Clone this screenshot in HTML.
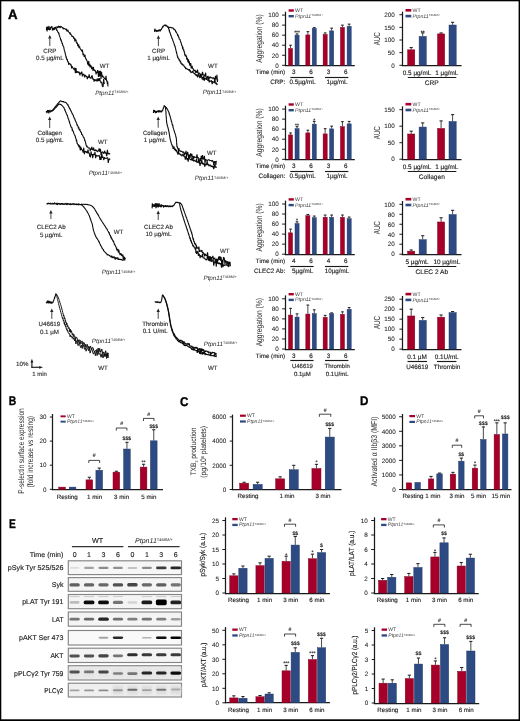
<!DOCTYPE html>
<html><head><meta charset="utf-8"><style>
html,body{margin:0;padding:0;background:#fff;}
svg{display:block;font-family:"Liberation Sans", sans-serif;text-rendering:geometricPrecision;will-change:transform;}
</style></head><body>
<svg width="520" height="721" viewBox="0 0 520 721">
<rect x="0" y="0" width="520" height="721" fill="#ffffff"/>
<line x1="285.5" y1="11.7" x2="285.5" y2="66.12" stroke="#1a1a1a" stroke-width="1.25"/>
<line x1="284.88" y1="65.5" x2="354.8" y2="65.5" stroke="#1a1a1a" stroke-width="1.25"/>
<line x1="282.1" y1="65.3" x2="285.5" y2="65.3" stroke="#1a1a1a" stroke-width="1"/>
<text x="278.7" y="67.57" font-size="6.3" text-anchor="end" fill="#1e1e1e" stroke="#1e1e1e" stroke-width="0.07">0</text>
<line x1="282.1" y1="55.26" x2="285.5" y2="55.26" stroke="#1a1a1a" stroke-width="1"/>
<text x="278.7" y="57.53" font-size="6.3" text-anchor="end" fill="#1e1e1e" stroke="#1e1e1e" stroke-width="0.07">20</text>
<line x1="282.1" y1="45.22" x2="285.5" y2="45.22" stroke="#1a1a1a" stroke-width="1"/>
<text x="278.7" y="47.49" font-size="6.3" text-anchor="end" fill="#1e1e1e" stroke="#1e1e1e" stroke-width="0.07">40</text>
<line x1="282.1" y1="35.18" x2="285.5" y2="35.18" stroke="#1a1a1a" stroke-width="1"/>
<text x="278.7" y="37.45" font-size="6.3" text-anchor="end" fill="#1e1e1e" stroke="#1e1e1e" stroke-width="0.07">60</text>
<line x1="282.1" y1="25.14" x2="285.5" y2="25.14" stroke="#1a1a1a" stroke-width="1"/>
<text x="278.7" y="27.41" font-size="6.3" text-anchor="end" fill="#1e1e1e" stroke="#1e1e1e" stroke-width="0.07">80</text>
<line x1="282.1" y1="15.1" x2="285.5" y2="15.1" stroke="#1a1a1a" stroke-width="1"/>
<text x="278.7" y="17.37" font-size="6.3" text-anchor="end" fill="#1e1e1e" stroke="#1e1e1e" stroke-width="0.07">100</text>
<line x1="290.55" y1="45.22" x2="290.55" y2="48.23" stroke="#1a1a1a" stroke-width="0.8"/>
<line x1="289.2" y1="45.22" x2="291.9" y2="45.22" stroke="#1a1a1a" stroke-width="1"/>
<rect x="288.5" y="48.43" width="4.1" height="16.87" fill="#a6002a" stroke="#80001f" stroke-width="0.45"/>
<line x1="297.05" y1="33.92" x2="297.05" y2="34.93" stroke="#1a1a1a" stroke-width="0.8"/>
<line x1="295.7" y1="33.92" x2="298.4" y2="33.92" stroke="#1a1a1a" stroke-width="1"/>
<rect x="295" y="35.13" width="4.1" height="30.17" fill="#2d4a82" stroke="#1c3565" stroke-width="0.45"/>
<line x1="307.85" y1="31.67" x2="307.85" y2="34.68" stroke="#1a1a1a" stroke-width="0.8"/>
<line x1="306.5" y1="31.67" x2="309.2" y2="31.67" stroke="#1a1a1a" stroke-width="1"/>
<rect x="305.8" y="34.88" width="4.1" height="30.42" fill="#a6002a" stroke="#80001f" stroke-width="0.45"/>
<line x1="314.25" y1="27.65" x2="314.25" y2="28.15" stroke="#1a1a1a" stroke-width="0.8"/>
<line x1="312.9" y1="27.65" x2="315.6" y2="27.65" stroke="#1a1a1a" stroke-width="1"/>
<rect x="312.2" y="28.35" width="4.1" height="36.95" fill="#2d4a82" stroke="#1c3565" stroke-width="0.45"/>
<line x1="325.15" y1="32.92" x2="325.15" y2="34.18" stroke="#1a1a1a" stroke-width="0.8"/>
<line x1="323.8" y1="32.92" x2="326.5" y2="32.92" stroke="#1a1a1a" stroke-width="1"/>
<rect x="323.1" y="34.38" width="4.1" height="30.92" fill="#a6002a" stroke="#80001f" stroke-width="0.45"/>
<line x1="331.65" y1="28.15" x2="331.65" y2="30.66" stroke="#1a1a1a" stroke-width="0.8"/>
<line x1="330.3" y1="28.15" x2="333" y2="28.15" stroke="#1a1a1a" stroke-width="1"/>
<rect x="329.6" y="30.86" width="4.1" height="34.44" fill="#2d4a82" stroke="#1c3565" stroke-width="0.45"/>
<line x1="342.45" y1="25.14" x2="342.45" y2="27.15" stroke="#1a1a1a" stroke-width="0.8"/>
<line x1="341.1" y1="25.14" x2="343.8" y2="25.14" stroke="#1a1a1a" stroke-width="1"/>
<rect x="340.4" y="27.35" width="4.1" height="37.95" fill="#a6002a" stroke="#80001f" stroke-width="0.45"/>
<line x1="349.15" y1="24.14" x2="349.15" y2="26.14" stroke="#1a1a1a" stroke-width="0.8"/>
<line x1="347.8" y1="24.14" x2="350.5" y2="24.14" stroke="#1a1a1a" stroke-width="1"/>
<rect x="347.1" y="26.34" width="4.1" height="38.96" fill="#2d4a82" stroke="#1c3565" stroke-width="0.45"/>
<text x="297.05" y="33.8" font-size="5" text-anchor="middle" fill="#1e1e1e" stroke="#1e1e1e" stroke-width="0.14">***</text>
<rect x="288.6" y="9.3" width="5.2" height="2.4" fill="#a6002a"/>
<rect x="288.6" y="15" width="5.2" height="2.4" fill="#2d4a82"/>
<text x="295.1" y="12" font-size="5.2" text-anchor="start" fill="#3c3c3c" stroke="none">WT</text>
<text x="295.1" y="17.7" font-size="5.2" text-anchor="start" fill="#3c3c3c"><tspan font-style="italic">Ptpn11</tspan><tspan font-size="3.02" dy="-1.4">T468M/+</tspan></text>
<text x="261.9" y="38.5" font-size="8.6" text-anchor="middle" fill="#2a2a2a" transform="rotate(-90 261.9 38.5)" stroke="none" textLength="48.3" lengthAdjust="spacingAndGlyphs">Aggregation (%)</text>
<text x="285.2" y="74.4" font-size="6.2" text-anchor="end" fill="#1e1e1e" stroke="#1e1e1e" stroke-width="0.14">Time (min)</text>
<text x="293.8" y="74.4" font-size="6.3" text-anchor="middle" fill="#1e1e1e" stroke="#1e1e1e" stroke-width="0.14">3</text>
<text x="311.05" y="74.4" font-size="6.3" text-anchor="middle" fill="#1e1e1e" stroke="#1e1e1e" stroke-width="0.14">6</text>
<text x="328.4" y="74.4" font-size="6.3" text-anchor="middle" fill="#1e1e1e" stroke="#1e1e1e" stroke-width="0.14">3</text>
<text x="345.8" y="74.4" font-size="6.3" text-anchor="middle" fill="#1e1e1e" stroke="#1e1e1e" stroke-width="0.14">6</text>
<line x1="290.3" y1="77.5" x2="313.6" y2="77.5" stroke="#1a1a1a" stroke-width="1.15"/>
<line x1="325" y1="77.5" x2="348.4" y2="77.5" stroke="#1a1a1a" stroke-width="1.15"/>
<text x="285.2" y="83.6" font-size="6.3" text-anchor="end" fill="#1e1e1e" stroke="#1e1e1e" stroke-width="0.14">CRP:</text>
<text x="302.6" y="83.6" font-size="6.3" text-anchor="middle" fill="#1e1e1e" stroke="#1e1e1e" stroke-width="0.14">0.5µg/mL</text>
<text x="337" y="83.6" font-size="6.3" text-anchor="middle" fill="#1e1e1e" stroke="#1e1e1e" stroke-width="0.14">1µg/mL</text>
<line x1="285.5" y1="105.7" x2="285.5" y2="160.12" stroke="#1a1a1a" stroke-width="1.25"/>
<line x1="284.88" y1="159.5" x2="354.8" y2="159.5" stroke="#1a1a1a" stroke-width="1.25"/>
<line x1="282.1" y1="159.3" x2="285.5" y2="159.3" stroke="#1a1a1a" stroke-width="1"/>
<text x="278.7" y="161.57" font-size="6.3" text-anchor="end" fill="#1e1e1e" stroke="#1e1e1e" stroke-width="0.07">0</text>
<line x1="282.1" y1="149.26" x2="285.5" y2="149.26" stroke="#1a1a1a" stroke-width="1"/>
<text x="278.7" y="151.53" font-size="6.3" text-anchor="end" fill="#1e1e1e" stroke="#1e1e1e" stroke-width="0.07">20</text>
<line x1="282.1" y1="139.22" x2="285.5" y2="139.22" stroke="#1a1a1a" stroke-width="1"/>
<text x="278.7" y="141.49" font-size="6.3" text-anchor="end" fill="#1e1e1e" stroke="#1e1e1e" stroke-width="0.07">40</text>
<line x1="282.1" y1="129.18" x2="285.5" y2="129.18" stroke="#1a1a1a" stroke-width="1"/>
<text x="278.7" y="131.45" font-size="6.3" text-anchor="end" fill="#1e1e1e" stroke="#1e1e1e" stroke-width="0.07">60</text>
<line x1="282.1" y1="119.14" x2="285.5" y2="119.14" stroke="#1a1a1a" stroke-width="1"/>
<text x="278.7" y="121.41" font-size="6.3" text-anchor="end" fill="#1e1e1e" stroke="#1e1e1e" stroke-width="0.07">80</text>
<line x1="282.1" y1="109.1" x2="285.5" y2="109.1" stroke="#1a1a1a" stroke-width="1"/>
<text x="278.7" y="111.37" font-size="6.3" text-anchor="end" fill="#1e1e1e" stroke="#1e1e1e" stroke-width="0.07">100</text>
<line x1="290.55" y1="132.95" x2="290.55" y2="134.7" stroke="#1a1a1a" stroke-width="0.8"/>
<line x1="289.2" y1="132.95" x2="291.9" y2="132.95" stroke="#1a1a1a" stroke-width="1"/>
<rect x="288.5" y="134.9" width="4.1" height="24.4" fill="#a6002a" stroke="#80001f" stroke-width="0.45"/>
<line x1="297.05" y1="126.67" x2="297.05" y2="128.43" stroke="#1a1a1a" stroke-width="0.8"/>
<line x1="295.7" y1="126.67" x2="298.4" y2="126.67" stroke="#1a1a1a" stroke-width="1"/>
<rect x="295" y="128.63" width="4.1" height="30.67" fill="#2d4a82" stroke="#1c3565" stroke-width="0.45"/>
<line x1="307.85" y1="130.18" x2="307.85" y2="132.69" stroke="#1a1a1a" stroke-width="0.8"/>
<line x1="306.5" y1="130.18" x2="309.2" y2="130.18" stroke="#1a1a1a" stroke-width="1"/>
<rect x="305.8" y="132.89" width="4.1" height="26.41" fill="#a6002a" stroke="#80001f" stroke-width="0.45"/>
<line x1="314.25" y1="121.4" x2="314.25" y2="123.91" stroke="#1a1a1a" stroke-width="0.8"/>
<line x1="312.9" y1="121.4" x2="315.6" y2="121.4" stroke="#1a1a1a" stroke-width="1"/>
<rect x="312.2" y="124.11" width="4.1" height="35.19" fill="#2d4a82" stroke="#1c3565" stroke-width="0.45"/>
<line x1="325.15" y1="128.68" x2="325.15" y2="133.7" stroke="#1a1a1a" stroke-width="0.8"/>
<line x1="323.8" y1="128.68" x2="326.5" y2="128.68" stroke="#1a1a1a" stroke-width="1"/>
<rect x="323.1" y="133.9" width="4.1" height="25.4" fill="#a6002a" stroke="#80001f" stroke-width="0.45"/>
<line x1="331.65" y1="126.17" x2="331.65" y2="128.68" stroke="#1a1a1a" stroke-width="0.8"/>
<line x1="330.3" y1="126.17" x2="333" y2="126.17" stroke="#1a1a1a" stroke-width="1"/>
<rect x="329.6" y="128.88" width="4.1" height="30.42" fill="#2d4a82" stroke="#1c3565" stroke-width="0.45"/>
<line x1="342.45" y1="121.65" x2="342.45" y2="126.42" stroke="#1a1a1a" stroke-width="0.8"/>
<line x1="341.1" y1="121.65" x2="343.8" y2="121.65" stroke="#1a1a1a" stroke-width="1"/>
<rect x="340.4" y="126.62" width="4.1" height="32.68" fill="#a6002a" stroke="#80001f" stroke-width="0.45"/>
<line x1="349.15" y1="121.4" x2="349.15" y2="123.66" stroke="#1a1a1a" stroke-width="0.8"/>
<line x1="347.8" y1="121.4" x2="350.5" y2="121.4" stroke="#1a1a1a" stroke-width="1"/>
<rect x="347.1" y="123.86" width="4.1" height="35.44" fill="#2d4a82" stroke="#1c3565" stroke-width="0.45"/>
<text x="297.05" y="126.8" font-size="5" text-anchor="middle" fill="#1e1e1e" stroke="#1e1e1e" stroke-width="0.14">**</text>
<text x="314.25" y="121.7" font-size="5" text-anchor="middle" fill="#1e1e1e" stroke="#1e1e1e" stroke-width="0.14">*</text>
<rect x="288.6" y="103.3" width="5.2" height="2.4" fill="#a6002a"/>
<rect x="288.6" y="109" width="5.2" height="2.4" fill="#2d4a82"/>
<text x="295.1" y="106" font-size="5.2" text-anchor="start" fill="#3c3c3c" stroke="none">WT</text>
<text x="295.1" y="111.7" font-size="5.2" text-anchor="start" fill="#3c3c3c"><tspan font-style="italic">Ptpn11</tspan><tspan font-size="3.02" dy="-1.4">T468M/+</tspan></text>
<text x="261.9" y="132.5" font-size="8.6" text-anchor="middle" fill="#2a2a2a" transform="rotate(-90 261.9 132.5)" stroke="none" textLength="48.3" lengthAdjust="spacingAndGlyphs">Aggregation (%)</text>
<text x="285.2" y="168.4" font-size="6.2" text-anchor="end" fill="#1e1e1e" stroke="#1e1e1e" stroke-width="0.14">Time (min)</text>
<text x="293.8" y="168.4" font-size="6.3" text-anchor="middle" fill="#1e1e1e" stroke="#1e1e1e" stroke-width="0.14">3</text>
<text x="311.05" y="168.4" font-size="6.3" text-anchor="middle" fill="#1e1e1e" stroke="#1e1e1e" stroke-width="0.14">6</text>
<text x="328.4" y="168.4" font-size="6.3" text-anchor="middle" fill="#1e1e1e" stroke="#1e1e1e" stroke-width="0.14">3</text>
<text x="345.8" y="168.4" font-size="6.3" text-anchor="middle" fill="#1e1e1e" stroke="#1e1e1e" stroke-width="0.14">6</text>
<line x1="290.3" y1="171.5" x2="313.6" y2="171.5" stroke="#1a1a1a" stroke-width="1.15"/>
<line x1="325" y1="171.5" x2="348.4" y2="171.5" stroke="#1a1a1a" stroke-width="1.15"/>
<text x="285.2" y="177.6" font-size="6.3" text-anchor="end" fill="#1e1e1e" stroke="#1e1e1e" stroke-width="0.14">Collagen:</text>
<text x="302.6" y="177.6" font-size="6.3" text-anchor="middle" fill="#1e1e1e" stroke="#1e1e1e" stroke-width="0.14">0.5µg/mL</text>
<text x="337" y="177.6" font-size="6.3" text-anchor="middle" fill="#1e1e1e" stroke="#1e1e1e" stroke-width="0.14">1µg/mL</text>
<line x1="285.5" y1="200.6" x2="285.5" y2="255.12" stroke="#1a1a1a" stroke-width="1.25"/>
<line x1="284.88" y1="254.5" x2="354.8" y2="254.5" stroke="#1a1a1a" stroke-width="1.25"/>
<line x1="282.1" y1="254.2" x2="285.5" y2="254.2" stroke="#1a1a1a" stroke-width="1"/>
<text x="278.7" y="256.47" font-size="6.3" text-anchor="end" fill="#1e1e1e" stroke="#1e1e1e" stroke-width="0.07">0</text>
<line x1="282.1" y1="244.16" x2="285.5" y2="244.16" stroke="#1a1a1a" stroke-width="1"/>
<text x="278.7" y="246.43" font-size="6.3" text-anchor="end" fill="#1e1e1e" stroke="#1e1e1e" stroke-width="0.07">20</text>
<line x1="282.1" y1="234.12" x2="285.5" y2="234.12" stroke="#1a1a1a" stroke-width="1"/>
<text x="278.7" y="236.39" font-size="6.3" text-anchor="end" fill="#1e1e1e" stroke="#1e1e1e" stroke-width="0.07">40</text>
<line x1="282.1" y1="224.08" x2="285.5" y2="224.08" stroke="#1a1a1a" stroke-width="1"/>
<text x="278.7" y="226.35" font-size="6.3" text-anchor="end" fill="#1e1e1e" stroke="#1e1e1e" stroke-width="0.07">60</text>
<line x1="282.1" y1="214.04" x2="285.5" y2="214.04" stroke="#1a1a1a" stroke-width="1"/>
<text x="278.7" y="216.31" font-size="6.3" text-anchor="end" fill="#1e1e1e" stroke="#1e1e1e" stroke-width="0.07">80</text>
<line x1="282.1" y1="204" x2="285.5" y2="204" stroke="#1a1a1a" stroke-width="1"/>
<text x="278.7" y="206.27" font-size="6.3" text-anchor="end" fill="#1e1e1e" stroke="#1e1e1e" stroke-width="0.07">100</text>
<line x1="290.55" y1="229.1" x2="290.55" y2="232.61" stroke="#1a1a1a" stroke-width="0.8"/>
<line x1="289.2" y1="229.1" x2="291.9" y2="229.1" stroke="#1a1a1a" stroke-width="1"/>
<rect x="288.5" y="232.81" width="4.1" height="21.39" fill="#a6002a" stroke="#80001f" stroke-width="0.45"/>
<line x1="297.05" y1="221.82" x2="297.05" y2="223.33" stroke="#1a1a1a" stroke-width="0.8"/>
<line x1="295.7" y1="221.82" x2="298.4" y2="221.82" stroke="#1a1a1a" stroke-width="1"/>
<rect x="295" y="223.53" width="4.1" height="30.67" fill="#2d4a82" stroke="#1c3565" stroke-width="0.45"/>
<line x1="307.85" y1="214.54" x2="307.85" y2="215.55" stroke="#1a1a1a" stroke-width="0.8"/>
<line x1="306.5" y1="214.54" x2="309.2" y2="214.54" stroke="#1a1a1a" stroke-width="1"/>
<rect x="305.8" y="215.75" width="4.1" height="38.45" fill="#a6002a" stroke="#80001f" stroke-width="0.45"/>
<line x1="314.25" y1="216.05" x2="314.25" y2="217.55" stroke="#1a1a1a" stroke-width="0.8"/>
<line x1="312.9" y1="216.05" x2="315.6" y2="216.05" stroke="#1a1a1a" stroke-width="1"/>
<rect x="312.2" y="217.75" width="4.1" height="36.45" fill="#2d4a82" stroke="#1c3565" stroke-width="0.45"/>
<line x1="325.15" y1="215.04" x2="325.15" y2="217.05" stroke="#1a1a1a" stroke-width="0.8"/>
<line x1="323.8" y1="215.04" x2="326.5" y2="215.04" stroke="#1a1a1a" stroke-width="1"/>
<rect x="323.1" y="217.25" width="4.1" height="36.95" fill="#a6002a" stroke="#80001f" stroke-width="0.45"/>
<line x1="331.65" y1="215.04" x2="331.65" y2="217.05" stroke="#1a1a1a" stroke-width="0.8"/>
<line x1="330.3" y1="215.04" x2="333" y2="215.04" stroke="#1a1a1a" stroke-width="1"/>
<rect x="329.6" y="217.25" width="4.1" height="36.95" fill="#2d4a82" stroke="#1c3565" stroke-width="0.45"/>
<line x1="342.45" y1="215.04" x2="342.45" y2="217.05" stroke="#1a1a1a" stroke-width="0.8"/>
<line x1="341.1" y1="215.04" x2="343.8" y2="215.04" stroke="#1a1a1a" stroke-width="1"/>
<rect x="340.4" y="217.25" width="4.1" height="36.95" fill="#a6002a" stroke="#80001f" stroke-width="0.45"/>
<line x1="349.15" y1="217.05" x2="349.15" y2="218.56" stroke="#1a1a1a" stroke-width="0.8"/>
<line x1="347.8" y1="217.05" x2="350.5" y2="217.05" stroke="#1a1a1a" stroke-width="1"/>
<rect x="347.1" y="218.76" width="4.1" height="35.44" fill="#2d4a82" stroke="#1c3565" stroke-width="0.45"/>
<text x="297.05" y="222" font-size="5" text-anchor="middle" fill="#1e1e1e" stroke="#1e1e1e" stroke-width="0.14">*</text>
<rect x="288.6" y="198.2" width="5.2" height="2.4" fill="#a6002a"/>
<rect x="288.6" y="203.9" width="5.2" height="2.4" fill="#2d4a82"/>
<text x="295.1" y="200.9" font-size="5.2" text-anchor="start" fill="#3c3c3c" stroke="none">WT</text>
<text x="295.1" y="206.6" font-size="5.2" text-anchor="start" fill="#3c3c3c"><tspan font-style="italic">Ptpn11</tspan><tspan font-size="3.02" dy="-1.4">T468M/+</tspan></text>
<text x="261.9" y="227.4" font-size="8.6" text-anchor="middle" fill="#2a2a2a" transform="rotate(-90 261.9 227.4)" stroke="none" textLength="48.3" lengthAdjust="spacingAndGlyphs">Aggregation (%)</text>
<text x="285.2" y="263.3" font-size="6.2" text-anchor="end" fill="#1e1e1e" stroke="#1e1e1e" stroke-width="0.14">Time (min)</text>
<text x="293.8" y="263.3" font-size="6.3" text-anchor="middle" fill="#1e1e1e" stroke="#1e1e1e" stroke-width="0.14">4</text>
<text x="311.05" y="263.3" font-size="6.3" text-anchor="middle" fill="#1e1e1e" stroke="#1e1e1e" stroke-width="0.14">6</text>
<text x="328.4" y="263.3" font-size="6.3" text-anchor="middle" fill="#1e1e1e" stroke="#1e1e1e" stroke-width="0.14">4</text>
<text x="345.8" y="263.3" font-size="6.3" text-anchor="middle" fill="#1e1e1e" stroke="#1e1e1e" stroke-width="0.14">6</text>
<line x1="290.3" y1="266.5" x2="313.6" y2="266.5" stroke="#1a1a1a" stroke-width="1.15"/>
<line x1="325" y1="266.5" x2="348.4" y2="266.5" stroke="#1a1a1a" stroke-width="1.15"/>
<text x="285.2" y="272.5" font-size="6.3" text-anchor="end" fill="#1e1e1e" stroke="#1e1e1e" stroke-width="0.14">CLEC2 Ab:</text>
<text x="302.6" y="272.5" font-size="6.3" text-anchor="middle" fill="#1e1e1e" stroke="#1e1e1e" stroke-width="0.14">5µg/mL</text>
<text x="337" y="272.5" font-size="6.3" text-anchor="middle" fill="#1e1e1e" stroke="#1e1e1e" stroke-width="0.14">10µg/mL</text>
<line x1="285.5" y1="295.4" x2="285.5" y2="350.12" stroke="#1a1a1a" stroke-width="1.25"/>
<line x1="284.88" y1="349.5" x2="354.8" y2="349.5" stroke="#1a1a1a" stroke-width="1.25"/>
<line x1="282.1" y1="349" x2="285.5" y2="349" stroke="#1a1a1a" stroke-width="1"/>
<text x="278.7" y="351.27" font-size="6.3" text-anchor="end" fill="#1e1e1e" stroke="#1e1e1e" stroke-width="0.07">0</text>
<line x1="282.1" y1="338.96" x2="285.5" y2="338.96" stroke="#1a1a1a" stroke-width="1"/>
<text x="278.7" y="341.23" font-size="6.3" text-anchor="end" fill="#1e1e1e" stroke="#1e1e1e" stroke-width="0.07">20</text>
<line x1="282.1" y1="328.92" x2="285.5" y2="328.92" stroke="#1a1a1a" stroke-width="1"/>
<text x="278.7" y="331.19" font-size="6.3" text-anchor="end" fill="#1e1e1e" stroke="#1e1e1e" stroke-width="0.07">40</text>
<line x1="282.1" y1="318.88" x2="285.5" y2="318.88" stroke="#1a1a1a" stroke-width="1"/>
<text x="278.7" y="321.15" font-size="6.3" text-anchor="end" fill="#1e1e1e" stroke="#1e1e1e" stroke-width="0.07">60</text>
<line x1="282.1" y1="308.84" x2="285.5" y2="308.84" stroke="#1a1a1a" stroke-width="1"/>
<text x="278.7" y="311.11" font-size="6.3" text-anchor="end" fill="#1e1e1e" stroke="#1e1e1e" stroke-width="0.07">80</text>
<line x1="282.1" y1="298.8" x2="285.5" y2="298.8" stroke="#1a1a1a" stroke-width="1"/>
<text x="278.7" y="301.07" font-size="6.3" text-anchor="end" fill="#1e1e1e" stroke="#1e1e1e" stroke-width="0.07">100</text>
<line x1="290.55" y1="308.34" x2="290.55" y2="314.86" stroke="#1a1a1a" stroke-width="0.8"/>
<line x1="289.2" y1="308.34" x2="291.9" y2="308.34" stroke="#1a1a1a" stroke-width="1"/>
<rect x="288.5" y="315.06" width="4.1" height="33.94" fill="#a6002a" stroke="#80001f" stroke-width="0.45"/>
<line x1="297.05" y1="313.86" x2="297.05" y2="316.87" stroke="#1a1a1a" stroke-width="0.8"/>
<line x1="295.7" y1="313.86" x2="298.4" y2="313.86" stroke="#1a1a1a" stroke-width="1"/>
<rect x="295" y="317.07" width="4.1" height="31.93" fill="#2d4a82" stroke="#1c3565" stroke-width="0.45"/>
<line x1="307.85" y1="305.07" x2="307.85" y2="313.86" stroke="#1a1a1a" stroke-width="0.8"/>
<line x1="306.5" y1="305.07" x2="309.2" y2="305.07" stroke="#1a1a1a" stroke-width="1"/>
<rect x="305.8" y="314.06" width="4.1" height="34.94" fill="#a6002a" stroke="#80001f" stroke-width="0.45"/>
<line x1="314.25" y1="309.84" x2="314.25" y2="313.36" stroke="#1a1a1a" stroke-width="0.8"/>
<line x1="312.9" y1="309.84" x2="315.6" y2="309.84" stroke="#1a1a1a" stroke-width="1"/>
<rect x="312.2" y="313.56" width="4.1" height="35.44" fill="#2d4a82" stroke="#1c3565" stroke-width="0.45"/>
<line x1="325.15" y1="315.37" x2="325.15" y2="317.12" stroke="#1a1a1a" stroke-width="0.8"/>
<line x1="323.8" y1="315.37" x2="326.5" y2="315.37" stroke="#1a1a1a" stroke-width="1"/>
<rect x="323.1" y="317.32" width="4.1" height="31.68" fill="#a6002a" stroke="#80001f" stroke-width="0.45"/>
<line x1="331.65" y1="312.86" x2="331.65" y2="313.36" stroke="#1a1a1a" stroke-width="0.8"/>
<line x1="330.3" y1="312.86" x2="333" y2="312.86" stroke="#1a1a1a" stroke-width="1"/>
<rect x="329.6" y="313.56" width="4.1" height="35.44" fill="#2d4a82" stroke="#1c3565" stroke-width="0.45"/>
<line x1="342.45" y1="311.85" x2="342.45" y2="314.11" stroke="#1a1a1a" stroke-width="0.8"/>
<line x1="341.1" y1="311.85" x2="343.8" y2="311.85" stroke="#1a1a1a" stroke-width="1"/>
<rect x="340.4" y="314.31" width="4.1" height="34.69" fill="#a6002a" stroke="#80001f" stroke-width="0.45"/>
<line x1="349.15" y1="307.58" x2="349.15" y2="309.09" stroke="#1a1a1a" stroke-width="0.8"/>
<line x1="347.8" y1="307.58" x2="350.5" y2="307.58" stroke="#1a1a1a" stroke-width="1"/>
<rect x="347.1" y="309.29" width="4.1" height="39.71" fill="#2d4a82" stroke="#1c3565" stroke-width="0.45"/>
<rect x="288.6" y="293" width="5.2" height="2.4" fill="#a6002a"/>
<rect x="288.6" y="298.7" width="5.2" height="2.4" fill="#2d4a82"/>
<text x="295.1" y="295.7" font-size="5.2" text-anchor="start" fill="#3c3c3c" stroke="none">WT</text>
<text x="295.1" y="301.4" font-size="5.2" text-anchor="start" fill="#3c3c3c"><tspan font-style="italic">Ptpn11</tspan><tspan font-size="3.02" dy="-1.4">T468M/+</tspan></text>
<text x="261.9" y="322.2" font-size="8.6" text-anchor="middle" fill="#2a2a2a" transform="rotate(-90 261.9 322.2)" stroke="none" textLength="48.3" lengthAdjust="spacingAndGlyphs">Aggregation (%)</text>
<text x="285.2" y="358.1" font-size="6.2" text-anchor="end" fill="#1e1e1e" stroke="#1e1e1e" stroke-width="0.14">Time (min)</text>
<text x="293.8" y="358.1" font-size="6.3" text-anchor="middle" fill="#1e1e1e" stroke="#1e1e1e" stroke-width="0.14">3</text>
<text x="311.05" y="358.1" font-size="6.3" text-anchor="middle" fill="#1e1e1e" stroke="#1e1e1e" stroke-width="0.14">6</text>
<text x="328.4" y="358.1" font-size="6.3" text-anchor="middle" fill="#1e1e1e" stroke="#1e1e1e" stroke-width="0.14">3</text>
<text x="345.8" y="358.1" font-size="6.3" text-anchor="middle" fill="#1e1e1e" stroke="#1e1e1e" stroke-width="0.14">6</text>
<line x1="290.3" y1="360.5" x2="313.6" y2="360.5" stroke="#1a1a1a" stroke-width="1.15"/>
<line x1="325" y1="360.5" x2="348.4" y2="360.5" stroke="#1a1a1a" stroke-width="1.15"/>
<text x="302.4" y="367.9" font-size="6" text-anchor="middle" fill="#1e1e1e" stroke="#1e1e1e" stroke-width="0.14">U46619</text>
<text x="337.2" y="367.9" font-size="6" text-anchor="middle" fill="#1e1e1e" stroke="#1e1e1e" stroke-width="0.14">Thrombin</text>
<text x="302.4" y="375.6" font-size="6" text-anchor="middle" fill="#1e1e1e" stroke="#1e1e1e" stroke-width="0.14">0.1µM</text>
<text x="337.2" y="375.6" font-size="6" text-anchor="middle" fill="#1e1e1e" stroke="#1e1e1e" stroke-width="0.14">0.1U/mL</text>
<line x1="402.5" y1="11.7" x2="402.5" y2="66.12" stroke="#1a1a1a" stroke-width="1.25"/>
<line x1="401.88" y1="65.5" x2="461.5" y2="65.5" stroke="#1a1a1a" stroke-width="1.25"/>
<line x1="399.4" y1="65.3" x2="402.5" y2="65.3" stroke="#1a1a1a" stroke-width="1"/>
<text x="394.7" y="67.57" font-size="6.3" text-anchor="end" fill="#1e1e1e" stroke="#1e1e1e" stroke-width="0.07">0</text>
<line x1="399.4" y1="52.65" x2="402.5" y2="52.65" stroke="#1a1a1a" stroke-width="1"/>
<text x="394.7" y="54.92" font-size="6.3" text-anchor="end" fill="#1e1e1e" stroke="#1e1e1e" stroke-width="0.07">50</text>
<line x1="399.4" y1="40" x2="402.5" y2="40" stroke="#1a1a1a" stroke-width="1"/>
<text x="394.7" y="42.27" font-size="6.3" text-anchor="end" fill="#1e1e1e" stroke="#1e1e1e" stroke-width="0.07">100</text>
<line x1="399.4" y1="27.35" x2="402.5" y2="27.35" stroke="#1a1a1a" stroke-width="1"/>
<text x="394.7" y="29.62" font-size="6.3" text-anchor="end" fill="#1e1e1e" stroke="#1e1e1e" stroke-width="0.07">150</text>
<line x1="399.4" y1="14.7" x2="402.5" y2="14.7" stroke="#1a1a1a" stroke-width="1"/>
<text x="394.7" y="16.97" font-size="6.3" text-anchor="end" fill="#1e1e1e" stroke="#1e1e1e" stroke-width="0.07">200</text>
<line x1="411.2" y1="47.59" x2="411.2" y2="49.61" stroke="#1a1a1a" stroke-width="0.8"/>
<line x1="409.6" y1="47.59" x2="412.8" y2="47.59" stroke="#1a1a1a" stroke-width="1"/>
<rect x="407.6" y="49.81" width="7.2" height="15.49" fill="#a6002a" stroke="#80001f" stroke-width="0.45"/>
<line x1="422.7" y1="32.92" x2="422.7" y2="36.2" stroke="#1a1a1a" stroke-width="0.8"/>
<line x1="421.1" y1="32.92" x2="424.3" y2="32.92" stroke="#1a1a1a" stroke-width="1"/>
<rect x="419.1" y="36.41" width="7.2" height="28.89" fill="#2d4a82" stroke="#1c3565" stroke-width="0.45"/>
<line x1="441.1" y1="32.92" x2="441.1" y2="33.67" stroke="#1a1a1a" stroke-width="0.8"/>
<line x1="439.5" y1="32.92" x2="442.7" y2="32.92" stroke="#1a1a1a" stroke-width="1"/>
<rect x="437.5" y="33.88" width="7.2" height="31.43" fill="#a6002a" stroke="#80001f" stroke-width="0.45"/>
<line x1="452.6" y1="22.29" x2="452.6" y2="24.82" stroke="#1a1a1a" stroke-width="0.8"/>
<line x1="451" y1="22.29" x2="454.2" y2="22.29" stroke="#1a1a1a" stroke-width="1"/>
<rect x="449" y="25.02" width="7.2" height="40.28" fill="#2d4a82" stroke="#1c3565" stroke-width="0.45"/>
<text x="422.7" y="34" font-size="5" text-anchor="middle" fill="#1e1e1e" stroke="#1e1e1e" stroke-width="0.14">**</text>
<rect x="405.5" y="9" width="5.8" height="2.6" fill="#a6002a"/>
<rect x="405.5" y="14.8" width="5.8" height="2.6" fill="#2d4a82"/>
<text x="412.6" y="11.9" font-size="5.2" text-anchor="start" fill="#3c3c3c" stroke="none">WT</text>
<text x="412.6" y="17.7" font-size="5.2" text-anchor="start" fill="#3c3c3c"><tspan font-style="italic">Ptpn11</tspan><tspan font-size="3.02" dy="-1.4">T468M/+</tspan></text>
<text x="379.6" y="38.8" font-size="8.8" text-anchor="middle" fill="#2a2a2a" transform="rotate(-90 379.6 38.8)" stroke="none" textLength="13" lengthAdjust="spacingAndGlyphs">AUC</text>
<text x="417" y="74.9" font-size="6.4" text-anchor="middle" fill="#1e1e1e" stroke="#1e1e1e" stroke-width="0.14">0.5 µg/mL</text>
<text x="446.8" y="74.9" font-size="6.4" text-anchor="middle" fill="#1e1e1e" stroke="#1e1e1e" stroke-width="0.14">1 µg/mL</text>
<line x1="407.8" y1="77.5" x2="456.3" y2="77.5" stroke="#1a1a1a" stroke-width="1.15"/>
<text x="431.8" y="85.2" font-size="6.6" text-anchor="middle" fill="#1e1e1e" stroke="#1e1e1e" stroke-width="0.14">CRP</text>
<line x1="402.5" y1="106.3" x2="402.5" y2="160.12" stroke="#1a1a1a" stroke-width="1.25"/>
<line x1="401.88" y1="159.5" x2="461.5" y2="159.5" stroke="#1a1a1a" stroke-width="1.25"/>
<line x1="399.4" y1="159.2" x2="402.5" y2="159.2" stroke="#1a1a1a" stroke-width="1"/>
<text x="394.7" y="161.47" font-size="6.3" text-anchor="end" fill="#1e1e1e" stroke="#1e1e1e" stroke-width="0.07">0</text>
<line x1="399.4" y1="142.7" x2="402.5" y2="142.7" stroke="#1a1a1a" stroke-width="1"/>
<text x="394.7" y="144.97" font-size="6.3" text-anchor="end" fill="#1e1e1e" stroke="#1e1e1e" stroke-width="0.07">50</text>
<line x1="399.4" y1="126.2" x2="402.5" y2="126.2" stroke="#1a1a1a" stroke-width="1"/>
<text x="394.7" y="128.47" font-size="6.3" text-anchor="end" fill="#1e1e1e" stroke="#1e1e1e" stroke-width="0.07">100</text>
<line x1="399.4" y1="109.7" x2="402.5" y2="109.7" stroke="#1a1a1a" stroke-width="1"/>
<text x="394.7" y="111.97" font-size="6.3" text-anchor="end" fill="#1e1e1e" stroke="#1e1e1e" stroke-width="0.07">150</text>
<line x1="411.2" y1="131.15" x2="411.2" y2="133.79" stroke="#1a1a1a" stroke-width="0.8"/>
<line x1="409.6" y1="131.15" x2="412.8" y2="131.15" stroke="#1a1a1a" stroke-width="1"/>
<rect x="407.6" y="133.99" width="7.2" height="25.21" fill="#a6002a" stroke="#80001f" stroke-width="0.45"/>
<line x1="422.7" y1="122.9" x2="422.7" y2="126.86" stroke="#1a1a1a" stroke-width="0.8"/>
<line x1="421.1" y1="122.9" x2="424.3" y2="122.9" stroke="#1a1a1a" stroke-width="1"/>
<rect x="419.1" y="127.06" width="7.2" height="32.14" fill="#2d4a82" stroke="#1c3565" stroke-width="0.45"/>
<line x1="441.1" y1="120.92" x2="441.1" y2="128.18" stroke="#1a1a1a" stroke-width="0.8"/>
<line x1="439.5" y1="120.92" x2="442.7" y2="120.92" stroke="#1a1a1a" stroke-width="1"/>
<rect x="437.5" y="128.38" width="7.2" height="30.82" fill="#a6002a" stroke="#80001f" stroke-width="0.45"/>
<line x1="452.6" y1="114.65" x2="452.6" y2="121.25" stroke="#1a1a1a" stroke-width="0.8"/>
<line x1="451" y1="114.65" x2="454.2" y2="114.65" stroke="#1a1a1a" stroke-width="1"/>
<rect x="449" y="121.45" width="7.2" height="37.75" fill="#2d4a82" stroke="#1c3565" stroke-width="0.45"/>
<rect x="405.5" y="102.9" width="5.8" height="2.6" fill="#a6002a"/>
<rect x="405.5" y="108.7" width="5.8" height="2.6" fill="#2d4a82"/>
<text x="412.6" y="105.8" font-size="5.2" text-anchor="start" fill="#3c3c3c" stroke="none">WT</text>
<text x="412.6" y="111.6" font-size="5.2" text-anchor="start" fill="#3c3c3c"><tspan font-style="italic">Ptpn11</tspan><tspan font-size="3.02" dy="-1.4">T468M/+</tspan></text>
<text x="379.6" y="132.7" font-size="8.8" text-anchor="middle" fill="#2a2a2a" transform="rotate(-90 379.6 132.7)" stroke="none" textLength="13" lengthAdjust="spacingAndGlyphs">AUC</text>
<text x="417" y="168.8" font-size="6.4" text-anchor="middle" fill="#1e1e1e" stroke="#1e1e1e" stroke-width="0.14">0.5 µg/mL</text>
<text x="446.8" y="168.8" font-size="6.4" text-anchor="middle" fill="#1e1e1e" stroke="#1e1e1e" stroke-width="0.14">1 µg/mL</text>
<line x1="407.8" y1="171.5" x2="456.3" y2="171.5" stroke="#1a1a1a" stroke-width="1.15"/>
<text x="431.8" y="179.1" font-size="6.6" text-anchor="middle" fill="#1e1e1e" stroke="#1e1e1e" stroke-width="0.14">Collagen</text>
<line x1="402.5" y1="201" x2="402.5" y2="255.12" stroke="#1a1a1a" stroke-width="1.25"/>
<line x1="401.88" y1="254.5" x2="461.5" y2="254.5" stroke="#1a1a1a" stroke-width="1.25"/>
<line x1="399.4" y1="254.2" x2="402.5" y2="254.2" stroke="#1a1a1a" stroke-width="1"/>
<text x="394.7" y="256.47" font-size="6.3" text-anchor="end" fill="#1e1e1e" stroke="#1e1e1e" stroke-width="0.07">0</text>
<line x1="399.4" y1="244.22" x2="402.5" y2="244.22" stroke="#1a1a1a" stroke-width="1"/>
<text x="394.7" y="246.49" font-size="6.3" text-anchor="end" fill="#1e1e1e" stroke="#1e1e1e" stroke-width="0.07">20</text>
<line x1="399.4" y1="234.24" x2="402.5" y2="234.24" stroke="#1a1a1a" stroke-width="1"/>
<text x="394.7" y="236.51" font-size="6.3" text-anchor="end" fill="#1e1e1e" stroke="#1e1e1e" stroke-width="0.07">40</text>
<line x1="399.4" y1="224.26" x2="402.5" y2="224.26" stroke="#1a1a1a" stroke-width="1"/>
<text x="394.7" y="226.53" font-size="6.3" text-anchor="end" fill="#1e1e1e" stroke="#1e1e1e" stroke-width="0.07">60</text>
<line x1="399.4" y1="214.28" x2="402.5" y2="214.28" stroke="#1a1a1a" stroke-width="1"/>
<text x="394.7" y="216.55" font-size="6.3" text-anchor="end" fill="#1e1e1e" stroke="#1e1e1e" stroke-width="0.07">80</text>
<line x1="399.4" y1="204.3" x2="402.5" y2="204.3" stroke="#1a1a1a" stroke-width="1"/>
<text x="394.7" y="206.57" font-size="6.3" text-anchor="end" fill="#1e1e1e" stroke="#1e1e1e" stroke-width="0.07">100</text>
<line x1="411.2" y1="249.96" x2="411.2" y2="250.96" stroke="#1a1a1a" stroke-width="0.8"/>
<line x1="409.6" y1="249.96" x2="412.8" y2="249.96" stroke="#1a1a1a" stroke-width="1"/>
<rect x="407.6" y="251.16" width="7.2" height="3.04" fill="#a6002a" stroke="#80001f" stroke-width="0.45"/>
<line x1="422.7" y1="235.74" x2="422.7" y2="239.48" stroke="#1a1a1a" stroke-width="0.8"/>
<line x1="421.1" y1="235.74" x2="424.3" y2="235.74" stroke="#1a1a1a" stroke-width="1"/>
<rect x="419.1" y="239.68" width="7.2" height="14.52" fill="#2d4a82" stroke="#1c3565" stroke-width="0.45"/>
<line x1="441.1" y1="217.77" x2="441.1" y2="221.76" stroke="#1a1a1a" stroke-width="0.8"/>
<line x1="439.5" y1="217.77" x2="442.7" y2="217.77" stroke="#1a1a1a" stroke-width="1"/>
<rect x="437.5" y="221.96" width="7.2" height="32.23" fill="#a6002a" stroke="#80001f" stroke-width="0.45"/>
<line x1="452.6" y1="210.29" x2="452.6" y2="214.28" stroke="#1a1a1a" stroke-width="0.8"/>
<line x1="451" y1="210.29" x2="454.2" y2="210.29" stroke="#1a1a1a" stroke-width="1"/>
<rect x="449" y="214.48" width="7.2" height="39.72" fill="#2d4a82" stroke="#1c3565" stroke-width="0.45"/>
<rect x="405.5" y="197.9" width="5.8" height="2.6" fill="#a6002a"/>
<rect x="405.5" y="203.7" width="5.8" height="2.6" fill="#2d4a82"/>
<text x="412.6" y="200.8" font-size="5.2" text-anchor="start" fill="#3c3c3c" stroke="none">WT</text>
<text x="412.6" y="206.6" font-size="5.2" text-anchor="start" fill="#3c3c3c"><tspan font-style="italic">Ptpn11</tspan><tspan font-size="3.02" dy="-1.4">T468M/+</tspan></text>
<text x="379.6" y="227.7" font-size="8.8" text-anchor="middle" fill="#2a2a2a" transform="rotate(-90 379.6 227.7)" stroke="none" textLength="13" lengthAdjust="spacingAndGlyphs">AUC</text>
<text x="417" y="263.8" font-size="6.4" text-anchor="middle" fill="#1e1e1e" stroke="#1e1e1e" stroke-width="0.14">5 µg/mL</text>
<text x="446.8" y="263.8" font-size="6.4" text-anchor="middle" fill="#1e1e1e" stroke="#1e1e1e" stroke-width="0.14">10 µg/mL</text>
<line x1="407.8" y1="266.5" x2="456.3" y2="266.5" stroke="#1a1a1a" stroke-width="1.15"/>
<text x="431.8" y="274.1" font-size="6.6" text-anchor="middle" fill="#1e1e1e" stroke="#1e1e1e" stroke-width="0.14">CLEC 2 Ab</text>
<line x1="402.5" y1="296" x2="402.5" y2="350.12" stroke="#1a1a1a" stroke-width="1.25"/>
<line x1="401.88" y1="349.5" x2="461.5" y2="349.5" stroke="#1a1a1a" stroke-width="1.25"/>
<line x1="399.4" y1="349.1" x2="402.5" y2="349.1" stroke="#1a1a1a" stroke-width="1"/>
<text x="394.7" y="351.37" font-size="6.3" text-anchor="end" fill="#1e1e1e" stroke="#1e1e1e" stroke-width="0.07">0</text>
<line x1="399.4" y1="339.12" x2="402.5" y2="339.12" stroke="#1a1a1a" stroke-width="1"/>
<text x="394.7" y="341.39" font-size="6.3" text-anchor="end" fill="#1e1e1e" stroke="#1e1e1e" stroke-width="0.07">50</text>
<line x1="399.4" y1="329.14" x2="402.5" y2="329.14" stroke="#1a1a1a" stroke-width="1"/>
<text x="394.7" y="331.41" font-size="6.3" text-anchor="end" fill="#1e1e1e" stroke="#1e1e1e" stroke-width="0.07">100</text>
<line x1="399.4" y1="319.16" x2="402.5" y2="319.16" stroke="#1a1a1a" stroke-width="1"/>
<text x="394.7" y="321.43" font-size="6.3" text-anchor="end" fill="#1e1e1e" stroke="#1e1e1e" stroke-width="0.07">150</text>
<line x1="399.4" y1="309.18" x2="402.5" y2="309.18" stroke="#1a1a1a" stroke-width="1"/>
<text x="394.7" y="311.45" font-size="6.3" text-anchor="end" fill="#1e1e1e" stroke="#1e1e1e" stroke-width="0.07">200</text>
<line x1="399.4" y1="299.2" x2="402.5" y2="299.2" stroke="#1a1a1a" stroke-width="1"/>
<text x="394.7" y="301.47" font-size="6.3" text-anchor="end" fill="#1e1e1e" stroke="#1e1e1e" stroke-width="0.07">250</text>
<line x1="411.2" y1="309.18" x2="411.2" y2="315.77" stroke="#1a1a1a" stroke-width="0.8"/>
<line x1="409.6" y1="309.18" x2="412.8" y2="309.18" stroke="#1a1a1a" stroke-width="1"/>
<rect x="407.6" y="315.97" width="7.2" height="33.13" fill="#a6002a" stroke="#80001f" stroke-width="0.45"/>
<line x1="422.7" y1="317.56" x2="422.7" y2="320.16" stroke="#1a1a1a" stroke-width="0.8"/>
<line x1="421.1" y1="317.56" x2="424.3" y2="317.56" stroke="#1a1a1a" stroke-width="1"/>
<rect x="419.1" y="320.36" width="7.2" height="28.74" fill="#2d4a82" stroke="#1c3565" stroke-width="0.45"/>
<line x1="441.1" y1="314.97" x2="441.1" y2="316.96" stroke="#1a1a1a" stroke-width="0.8"/>
<line x1="439.5" y1="314.97" x2="442.7" y2="314.97" stroke="#1a1a1a" stroke-width="1"/>
<rect x="437.5" y="317.16" width="7.2" height="31.94" fill="#a6002a" stroke="#80001f" stroke-width="0.45"/>
<line x1="452.6" y1="311.58" x2="452.6" y2="312.37" stroke="#1a1a1a" stroke-width="0.8"/>
<line x1="451" y1="311.58" x2="454.2" y2="311.58" stroke="#1a1a1a" stroke-width="1"/>
<rect x="449" y="312.57" width="7.2" height="36.53" fill="#2d4a82" stroke="#1c3565" stroke-width="0.45"/>
<rect x="405.5" y="292.8" width="5.8" height="2.6" fill="#a6002a"/>
<rect x="405.5" y="298.6" width="5.8" height="2.6" fill="#2d4a82"/>
<text x="412.6" y="295.7" font-size="5.2" text-anchor="start" fill="#3c3c3c" stroke="none">WT</text>
<text x="412.6" y="301.5" font-size="5.2" text-anchor="start" fill="#3c3c3c"><tspan font-style="italic">Ptpn11</tspan><tspan font-size="3.02" dy="-1.4">T468M/+</tspan></text>
<text x="379.6" y="322.6" font-size="8.8" text-anchor="middle" fill="#2a2a2a" transform="rotate(-90 379.6 322.6)" stroke="none" textLength="13" lengthAdjust="spacingAndGlyphs">AUC</text>
<text x="417" y="358.7" font-size="6.4" text-anchor="middle" fill="#1e1e1e" stroke="#1e1e1e" stroke-width="0.14">0.1 µM</text>
<text x="446.8" y="358.7" font-size="6.4" text-anchor="middle" fill="#1e1e1e" stroke="#1e1e1e" stroke-width="0.14">0.1U/mL</text>
<line x1="407.5" y1="361.5" x2="427.1" y2="361.5" stroke="#1a1a1a" stroke-width="1.15"/>
<line x1="437" y1="361.5" x2="456.4" y2="361.5" stroke="#1a1a1a" stroke-width="1.15"/>
<text x="417.3" y="368.5" font-size="6.3" text-anchor="middle" fill="#1e1e1e" stroke="#1e1e1e" stroke-width="0.14">U46619</text>
<text x="447.1" y="368.5" font-size="6.3" text-anchor="middle" fill="#1e1e1e" stroke="#1e1e1e" stroke-width="0.14">Thrombin</text>
<polyline points="46.4,30.02 46.68,26.74 47.06,31.52 47.51,26.55 48.01,29.77 48.51,28.44 49,25.94 49.4,30.25 49.82,27.91 50.24,29.8 50.67,26.78 51.1,27.79 51.55,26.9 52,26.23 52.43,30.35 52.9,28.03 53.4,30.13 53.89,27.52 54.36,29.84 54.78,27.02 55.13,29.31 55.4,26.93" fill="none" stroke="#0d0d0d" stroke-width="1.1" stroke-linejoin="miter" stroke-miterlimit="2"/>
<polyline points="55.4,27.97 55.64,27.38 56,28.81 56.5,28.81 56.73,30.16 56.99,30.05 57.27,30.67 57.57,31.15 57.88,32.27 58.19,32.51 58.5,32.5 58.8,33.82 59,33.68 59.2,34.94 59.4,35.53 59.6,35.98 59.8,36.66 60,37.1 60.2,37.89 60.4,38.41 60.6,39.59 60.8,39.54 61,40.29 61.2,40.24 61.44,41.42 61.68,41.66 61.92,42.73 62.17,43.9 62.41,43.2 62.64,44.55 62.87,45.61 63.09,45.73 63.3,46.4 63.5,46.13 63.7,47.64 63.89,47.26 64.06,49.48 64.22,49.3 64.38,50.65 64.53,51.31 64.68,50.95 64.84,51.73 65,52.21 65.15,53.04 65.3,53.38 65.44,55.04 65.59,54.8 65.73,55.71 65.88,56.02 66.03,57.76 66.18,56.42 66.34,57.8 66.5,58.51 66.74,59.15 67,60.05 67.26,58.9 67.52,61.07 67.78,61.4 68.05,62.03 68.3,61.96 68.78,64.85 69.24,63.29 70,63.84 70.27,64.02 70.57,64.33 70.89,65.39 71.24,65.3 71.6,68.39 71.98,66.15 72.37,66.89 72.76,67.89 73.16,67.99 73.55,68.55 73.93,69.04 74.3,70.04 74.85,67.72 75.4,73.18 75.95,68.16 76.5,72.83 77.05,71.15 77.6,72.12 78.15,71.8 78.7,72.67 79.32,72.34 79.94,75.32 80.55,72.67 81.16,73.71 81.77,71.59 82.39,76.31 83,73.9 83.54,74.68 84.08,74.66 84.61,77.48 85.15,75.02 85.69,75.55 86.22,76.42 86.76,76.54 87.3,79.04 87.91,76.66 88.53,77.72 89.14,74.32 89.75,77.74 90.36,77.81 90.98,78.29 91.6,76.03 92.22,75.96 92.85,79.52 93.48,78.72 94.12,81.6 94.75,79.2 95.38,80.48 96,80.01 96.62,81.19 97.24,78.53 97.85,81.32 98.46,78.42 99.07,80.92 99.69,78.16 100.3,81.41 100.95,82.64 101.65,81.91 102.37,86.23 103.06,86.86 103.68,79.11 104.21,83.61 104.6,83.14" fill="none" stroke="#0d0d0d" stroke-width="1.1" stroke-linejoin="miter" stroke-miterlimit="2"/>
<polyline points="55.4,27.65 55.79,27.32 56.33,27.24 56.96,26.92 57.66,27.61 58.36,26.29 59.02,27.29 59.6,26.15 60.28,27.35 60.89,26.47 61.46,26.73 62.05,27.51 62.7,27.56 63.21,29.19 63.73,28.2 64.27,28.58 64.83,28.81 65.39,29.31 65.95,29.56 66.5,28.94 66.93,31.51 67.38,30.5 67.82,30.2 68.27,31.32 68.72,32.13 69.16,32.33 69.59,33.11 70,32.44 70.4,34.72 70.83,34.18 71.23,34.85 71.63,35.14 72.01,36.76 72.38,36.09 72.75,36.84 73.12,36.09 73.5,37.95 73.84,37.91 74.17,38.76 74.5,37.91 74.83,41.34 75.17,38.7 75.5,40.86 75.83,39.67 76.16,40.64 76.5,43.38 76.81,42.72 77.11,43.45 77.42,42.53 77.73,45.86 78.04,44.97 78.36,46.71 78.67,44.33 78.98,48.04 79.29,47.51 79.6,46.47 79.95,48.28 80.3,48.67 80.66,49.65 81.02,49.73 81.38,50.32 81.73,51.02 82.06,51.33 82.39,49.59 82.7,51.97 83.03,55.13 83.33,53.77 83.62,53.99 83.9,54.52 84.17,56.99 84.44,55.57 84.72,55.99 85,54.82 85.28,57.47 85.55,57.74 85.81,58.9 86.08,58.9 86.35,59.17 86.64,60.35 86.96,60.72 87.3,61.08 87.64,64.5 88,61.8 88.38,65.35 88.78,60.92 89.19,66.13 89.6,63.72 90.01,67.4 90.41,64.82 90.8,66.12 91.18,66.05 91.54,69.12 91.91,66.67 92.27,67.82 92.63,68.04 93,71.01 93.39,66.94 93.78,69.53 94.2,69.64 94.64,70.7 95.11,70.52 95.6,71.23 96.09,74.34 96.59,71.84 97.09,72.63 97.58,70.19 98.05,72.59 98.5,77.01 99.04,70.84 99.56,76.37 100.06,71.48 100.54,71.4 101.02,78.98 101.51,71.74 102,75.45 102.44,76.61 102.9,76.16 103.36,77.51 103.81,76.96 104.26,78.31 104.7,78.51 105.11,78.69 105.5,79.93 106,75.92 106.5,80.74 106.97,80.71 107.39,84.26 107.74,81.57 108,86.44" fill="none" stroke="#0d0d0d" stroke-width="1.1" stroke-linejoin="miter" stroke-miterlimit="2"/>
<polyline points="154.5,31.89 154.77,28.69 155.15,29.58 155.59,31.39 156.07,29.98 156.55,31.46 157,31.22 157.43,30.34 157.87,31.59 158.31,29.89 158.74,31.44 159.14,29.64 159.5,30.79 159.91,29.29 160.23,31.31 160.56,29.57 161,30 161.19,29.24 161.39,29.5 161.62,28.59 161.85,28.42 162.09,27.73 162.34,27.66 162.59,26.91 162.84,27.07 163.09,25.94 163.34,26.23 163.57,25.88 163.8,25.79 164.24,25.22 164.68,25.3 165.11,24.92 165.52,25.11 165.92,25.94 166.3,25.46 166.75,26.13 167.19,26.05 167.61,27 167.95,26.7 168.2,27.49" fill="none" stroke="#0d0d0d" stroke-width="1.1" stroke-linejoin="miter" stroke-miterlimit="2"/>
<polyline points="168.2,27.5 168.31,27.16 168.46,28.04 168.62,28.43 168.8,29.09 169,29.25 169.22,30.65 169.44,30.55 169.67,32.12 169.91,32.36 170.14,33.16 170.37,33.42 170.6,34.49 170.81,35.41 171.03,35.48 171.26,36.27 171.49,36.82 171.72,37.34 171.96,38.54 172.2,38.58 172.43,39.25 172.67,39.79 172.89,40.45 173.1,41.01 173.31,41.63 173.5,42.2 173.73,42.62 173.94,43.37 174.14,43.86 174.33,45.22 174.51,45.05 174.69,45.53 174.86,46.6 175.04,45.84 175.21,47.35 175.4,47.89 175.54,48.34 175.68,49.03 175.82,49.54 175.95,50.2 176.09,50.73 176.22,51.53 176.36,51.92 176.5,52.81 176.64,52.72 176.79,54.01 176.95,53.76 177.12,55.63 177.3,55.46 177.55,56.96 177.8,56.88 178.07,58.44 178.34,57.92 178.63,58.68 178.93,59.12 179.23,60.61 179.55,59.46 179.87,60.88 180.2,62.21 180.54,60.95 180.89,63.25 181.25,63.06 181.62,63.21 182,64.95 182.39,64.28 182.78,64.75 183.18,65.48 183.59,64.62 184,66.26 184.45,66.57 184.9,67.37 185.34,67.33 185.79,69.1 186.26,68.22 186.75,68.57 187.28,69.2 187.86,69.3 188.5,69.95 188.94,70.54 189.41,69.13 189.9,71.14 190.42,70.87 190.94,72.95 191.49,71.64 192.04,72.45 192.61,70.95 193.18,72.72 193.75,73.16 194.32,73.27 194.89,73.82 195.45,75.18 196,74.06 196.55,76.17 197.1,74.76 197.65,77.34 198.21,73.66 198.77,75.83 199.33,75.87 199.89,78.06 200.45,76.37 201.01,77.06 201.57,74.9 202.13,79.49 202.69,77.02 203.25,80.09 203.8,75.67 204.4,80.66 205.01,78.06 205.61,78.88 206.23,78.86 206.84,79.4 207.45,79.95 208.05,80.32 208.65,79.7 209.24,82.26 209.83,80.88 210.4,81.26 210.96,80.99 211.5,80.81 212.14,84.03 212.8,81.49 213.47,81.84 214.13,83.06 214.77,80.47 215.39,83.1 215.97,83.7 216.5,83.2 216.97,84.51 217.37,84.09 217.7,83.91" fill="none" stroke="#0d0d0d" stroke-width="1.1" stroke-linejoin="miter" stroke-miterlimit="2"/>
<polyline points="168.2,27.26 168.6,27.21 169.16,27.69 169.82,27.25 170.53,27.38 171.25,27.43 171.92,28 172.5,27.72 173.06,27.91 173.57,29.02 174.04,29.51 174.49,29.26 174.93,29.97 175.4,30.09 175.69,31.89 175.98,31.03 176.27,32.98 176.56,32.53 176.85,33.26 177.14,33.65 177.43,34.38 177.72,35.93 178.01,34.68 178.3,36.24 178.54,36.71 178.78,37.42 179.03,37.81 179.27,39.47 179.51,38.82 179.76,39.51 180,39.12 180.24,40.45 180.48,41.34 180.72,41.73 180.96,42.56 181.2,43.2 181.39,43.72 181.58,44.16 181.76,45.95 181.95,45.22 182.13,45.95 182.32,46.41 182.5,48 182.69,48.75 182.87,46.83 183.06,49.04 183.24,49.24 183.43,50.12 183.62,49.08 183.81,51.45 184,50.47 184.24,52.52 184.49,51.61 184.74,55.15 184.99,53.97 185.24,56.26 185.49,55.6 185.74,56.03 185.99,54.94 186.25,56.92 186.5,56.02 186.75,59.6 187,58.76 187.3,57.88 187.6,59.35 187.9,62.21 188.2,60.71 188.5,59.39 188.8,63.27 189.1,62.25 189.4,61.36 189.7,65.52 190,63.84 190.32,65.93 190.61,63.03 190.88,63.99 191.16,68.56 191.45,66.54 191.76,67.33 192.12,65.95 192.53,68.35 193,68.52 193.4,69.5 193.83,71.35 194.29,70.01 194.77,70.61 195.28,70.51 195.8,73.23 196.34,71.15 196.9,72.49 197.46,69.57 198.04,72.93 198.62,73.42 199.2,73.06 199.74,73.4 200.28,77.08 200.83,73.92 201.39,75.1 201.95,74.9 202.53,71.9 203.11,74.88 203.72,75.07 204.33,75.13 204.97,76.4 205.62,72.71 206.3,78.41 207,79.62 207.54,76.56 208.12,76.41 208.74,79.78 209.39,76.86 210.06,77.88 210.75,77.15 211.44,77.85 212.14,77.72 212.84,78.38 213.52,77.77 214.18,78.59 214.82,82.33 215.42,75.73 215.99,79.15 216.5,78.67 216.96,74.81 217.37,82.04 217.7,79.35" fill="none" stroke="#0d0d0d" stroke-width="1.1" stroke-linejoin="miter" stroke-miterlimit="2"/>
<polyline points="46.2,112.35 46.52,111.16 46.98,113.11 47.49,110.2 48,112.01 48.39,110.1 48.79,113.43 49.19,110.52 49.6,111.98 50,109.93 50.41,112.33 50.84,110.7 51.26,111.68 51.66,110.09 52,111.5 52.3,110.32 52.49,111.14 52.72,109.97 53.1,110.17 53.29,109.43 53.51,109.54 53.74,108.73 54,108.89 54.26,108.58 54.54,107.72 54.83,107.35 55.12,107.43 55.41,106.6 55.71,106.58 56,106.2 56.26,105.39 56.53,105.47 56.82,105.23 57.11,104.54 57.42,103.98 57.72,103.94 58.02,103.24 58.31,103.24 58.59,102.7 58.85,102.52 59.09,102.09 59.31,102.01 59.5,101.65 60.06,101.28 60.33,100.89 60.5,101.07" fill="none" stroke="#0d0d0d" stroke-width="1.1" stroke-linejoin="miter" stroke-miterlimit="2"/>
<polyline points="53.1,110.23 53.41,109.66 53.84,109.45 54.36,109.01 54.91,108.42 55.47,107.94 56,107.36 56.43,107.11 56.87,106.33 57.31,106.07 57.75,105.26 58.2,104.51 58.65,104.6 59.1,103.92 59.75,104.2 60.42,104.36 61.09,104.82 61.72,105.26 62.3,105.81 62.73,106.21 63.13,106.72 63.51,107.23 63.86,107.33 64.19,108.48 64.5,109.07 64.79,109.96 65.04,109.87 65.27,110.9 65.5,111.48 65.74,112.15 66,112.32 66.24,113.35 66.47,113.97 66.72,114.41 66.97,115.02 67.23,115 67.51,116.24 67.8,116.97 67.98,118.04 68.16,118.11 68.35,118.69 68.54,119.15 68.74,119.87 68.94,120.42 69.15,121.2 69.36,121.02 69.56,122.52 69.78,123.18 69.99,123.76 70.2,124.29 70.41,125 70.63,125.34 70.85,126.87 71.08,126.55 71.3,128 71.53,127.58 71.76,127.63 71.99,127.86 72.22,130 72.45,129.87 72.67,131.23 72.9,130.98 73.13,131.62 73.36,131.2 73.59,132.82 73.83,133.11 74.06,133.93 74.29,134.56 74.52,134.79 74.75,135.35 74.97,136.1 75.19,135.68 75.4,137.25 75.6,137.82 75.81,138.21 76,139.1 76.18,139.33 76.35,141.13 76.52,140.7 76.68,139.77 76.85,142.12 77.02,142.27 77.2,144.05 77.39,143.26 77.6,144.15 77.89,144.33 78.19,145.5 78.5,144.41 78.82,146.74 79.15,147.15 79.51,145.35 79.89,148.02 80.3,150.49 80.73,146.46 81.17,149.65 81.62,149.03 82.1,149.92 82.61,150.63 83.16,152.48 83.75,147.69 84.4,154.16 84.86,151.22 85.33,151.71 85.83,151.46 86.34,152.24 86.87,151.94 87.42,153.15 87.99,149.61 88.57,153.27 89.17,152.72 89.8,156.42 90.44,156.87 91.1,151.63 91.61,154.53 92.15,154.11 92.69,158.07 93.26,154.32 93.83,154.12 94.42,154.95 95.02,151.95 95.62,158.18 96.24,155 96.85,155.88 97.46,155.94 98.08,155.71 98.69,155.97 99.3,155.66 99.9,159.83 100.5,156.52 101.11,160.02 101.75,153.26 102.41,157.39 103.09,157.18 103.78,160.1 104.47,157.3 105.16,158.24 105.84,158.47 106.5,158.27 107.13,157.76 107.73,158.15 108.29,162.82 108.81,158.95 109.27,159.57 109.67,159.09 110,159.73" fill="none" stroke="#0d0d0d" stroke-width="1.1" stroke-linejoin="miter" stroke-miterlimit="2"/>
<polyline points="60.5,101.03 60.94,101.13 61.56,101.38 62.28,101.51 63,101.8 63.59,101.5 64.23,102.13 64.88,102.26 65.48,102.28 66,102.67 66.46,102.92 66.78,103.8 67.11,103.98 67.6,104.22 67.84,105.18 68.1,105.03 68.37,106.15 68.67,106.61 68.98,107.11 69.3,107.76 69.62,109.22 69.95,108.87 70.27,109.68 70.59,110.07 70.9,110.92 71.16,111.25 71.42,111.91 71.68,112.33 71.94,113.11 72.2,113.38 72.47,114.22 72.73,113.8 73,115.38 73.26,114.98 73.52,116.62 73.78,117.05 74.04,117.53 74.3,118.3 74.55,118.95 74.81,118.44 75.05,120.02 75.3,120.45 75.54,121.22 75.78,121.45 76.03,121.95 76.28,122.86 76.53,123.19 76.79,123.96 77.05,125.6 77.32,124.86 77.6,125.43 77.85,126.21 78.11,126.47 78.38,128.3 78.66,126.87 78.94,129.43 79.22,128.64 79.51,130.42 79.79,129.01 80.08,130.55 80.36,131.05 80.64,131.81 80.92,131.94 81.19,132.76 81.45,132.33 81.7,134.9 82.01,134.2 82.32,134.8 82.63,135.52 82.93,135.88 83.23,136.86 83.52,137.19 83.8,137.84 84.07,137.38 84.33,139.1 84.57,139.28 84.79,141.13 85,140.53 85.25,140.89 85.44,141.94 85.58,142.31 85.69,143.43 85.81,143.76 85.95,144.17 86.14,145.18 86.4,145.55 86.74,146.43 87.09,146.29 87.48,147 87.92,147.16 88.43,147.96 89.06,148 89.8,148.15 90.23,151.05 90.71,148.53 91.23,149.67 91.79,146.79 92.37,149.68 92.97,149.84 93.59,147.55 94.21,150.62 94.84,150.74 95.47,149.95 96.08,150.74 96.68,150.28 97.25,151.53 97.8,150.99 98.47,151.02 99.13,148.41 99.78,151.99 100.42,148.82 101.05,155.17 101.67,152.47 102.28,151.86 102.88,152.14 103.47,153.29 104.04,153.05 104.6,150.76 105.29,153.43 106,152.69 106.7,156.15 107.39,149.93 108.05,154.1 108.65,153.44 109.19,153.84 109.64,153.52 110,154.15" fill="none" stroke="#0d0d0d" stroke-width="1.1" stroke-linejoin="miter" stroke-miterlimit="2"/>
<polyline points="153.4,112.97 153.68,109.86 154.06,111.87 154.51,110.13 155.01,112.23 155.51,113 156,111 156.4,112.89 156.82,110.73 157.24,111.71 157.67,110.69 158.11,112.41 158.55,110.24 159,112.02 159.41,110.43 159.84,111.91 160.28,111.93 160.72,110.6 161.16,111.44 161.57,111.96 161.96,111.44 162.3,110.24 162.51,110.59 162.71,109.74 162.9,110.36 163.08,108.65 163.25,108.94 163.41,107.73 163.55,107.52 163.69,107.79 163.81,106.73 163.92,106.83 164.02,106.15 164.1,106.16" fill="none" stroke="#0d0d0d" stroke-width="1.1" stroke-linejoin="miter" stroke-miterlimit="2"/>
<polyline points="164.1,106.36 164.37,106.06 164.76,106.62 165.17,107.11 165.5,108.11 165.58,108.51 165.65,109.04 165.71,109.39 165.77,110.4 165.82,110.81 165.88,111.56 165.92,112.15 165.97,112.93 166.01,113.6 166.06,114.65 166.1,114.97 166.15,115.89 166.2,116.2 166.25,116.91 166.3,117.42 166.33,118.02 166.37,118.63 166.4,119.29 166.44,119.91 166.48,120.03 166.54,121.4 166.61,121.58 166.69,122.58 166.8,122.88 166.91,123.55 167.04,124.08 167.18,124.6 167.33,125.74 167.49,125.85 167.66,126.55 167.84,127.14 168.01,127.86 168.18,128.44 168.35,129.47 168.51,129.65 168.66,130.4 168.8,131.38 168.93,131.6 169.04,132.6 169.15,132.8 169.26,133.62 169.35,134.23 169.45,134.79 169.55,135.52 169.65,136.07 169.74,136.64 169.85,137.44 169.96,137.95 170.07,138.57 170.2,139.06 170.36,139.84 170.52,140.34 170.68,141.24 170.85,141.09 171.03,142.47 171.21,142.93 171.4,143.69 171.59,144.19 171.79,144.02 171.99,145.35 172.2,145.69 172.49,146.58 172.78,145.67 173.07,148.91 173.38,148.03 173.71,148.45 174.07,146.65 174.46,149.59 174.9,149.55 175.27,148.68 175.66,151.03 176.06,150.58 176.47,149.79 176.91,152.33 177.38,151.83 177.88,154.63 178.41,150.57 178.98,153.54 179.6,153.81 180.04,154.59 180.5,154.35 180.98,155.15 181.48,154.94 182,155.85 182.53,155.2 183.08,153.71 183.64,156.45 184.2,155.85 184.78,156.79 185.36,159.75 185.94,156.79 186.53,157.25 187.12,160.19 187.7,157.99 188.22,161.59 188.75,155.69 189.28,158.21 189.82,159.2 190.37,159.57 190.92,159.33 191.48,160.04 192.04,156.49 192.6,160.57 193.16,159.74 193.73,161.01 194.3,160.43 194.86,160.8 195.42,161.36 195.99,161.6 196.54,158.53 197.1,162.5 197.69,162.3 198.27,161.61 198.85,162.77 199.43,162.39 200.01,165.82 200.59,162.57 201.17,163.55 201.76,159.86 202.34,164.07 202.92,163.31 203.51,164.37 204.1,163.3 204.69,166.78 205.29,163.84 205.89,164.83 206.5,164.79 207.09,160.74 207.72,164.97 208.37,164.42 209.04,165.75 209.73,165.14 210.42,165.02 211.11,166.63 211.8,166.01 212.47,166.79 213.13,165.74 213.75,169.14 214.35,166.88 214.9,163.71 215.41,167.2 215.87,167.23 216.27,166.53 216.6,167.69" fill="none" stroke="#0d0d0d" stroke-width="1.1" stroke-linejoin="miter" stroke-miterlimit="2"/>
<polyline points="164.1,106.38 164.59,106.05 165.5,106.83 165.76,107.07 166.05,107.57 166.37,107.61 166.71,108.5 167.07,108.48 167.43,109.54 167.79,110.07 168.15,110.73 168.49,111.57 168.8,112.11 168.99,112.6 169.17,113.72 169.34,113.62 169.52,114.75 169.69,114.95 169.86,115.49 170.02,116.03 170.19,116.62 170.35,117.28 170.51,117.49 170.68,118.53 170.84,119.19 171,119.32 171.17,120.48 171.33,120.99 171.5,121.61 171.67,121.65 171.84,122.84 172.02,123.35 172.19,124.56 172.37,124.56 172.54,125.32 172.72,125.82 172.89,125.73 173.07,127.63 173.24,127.81 173.41,128.38 173.57,128.8 173.74,129.48 173.9,129.9 174.05,130 174.2,131.57 174.41,131.07 174.62,132.36 174.83,132.85 175.03,133.62 175.23,134.12 175.42,134.61 175.6,135.4 175.77,135.85 175.92,137.48 176.07,136.95 176.2,137.86 176.29,138.25 176.37,138.98 176.42,139.46 176.47,140.14 176.5,140.8 176.54,141.32 176.56,142.07 176.6,141.79 176.63,143.53 176.68,143.85 176.73,144.5 176.81,143.5 176.9,146.89 177.09,146.24 177.3,147.12 177.52,147.31 177.79,148.32 178.09,148.48 178.46,151.09 178.9,148.01 179.28,150.57 179.67,150.81 180.09,151.05 180.55,150.89 181.04,151.36 181.59,151.29 182.19,151.76 182.86,152.27 183.6,151.93 184.03,153.11 184.48,154.99 184.96,152.59 185.46,153.87 185.98,150.91 186.51,157.05 187.07,153.98 187.63,151.86 188.21,154.85 188.8,158.33 189.39,154.63 189.99,158.27 190.59,153.41 191.2,156.46 191.8,153.92 192.4,157.02 193,156.18 193.56,159.4 194.13,156.67 194.7,156.98 195.27,157.31 195.84,157.34 196.42,157.82 197.01,154.24 197.59,157.97 198.19,157.64 198.79,162.13 199.39,161.66 200,158 200.62,161.48 201.24,155.74 201.87,159.36 202.5,155.13 203.15,159.23 203.8,158.97 204.38,155.91 204.99,163.36 205.64,159.2 206.3,160.05 206.99,160.21 207.68,160.47 208.39,159.81 209.11,159.75 209.82,160.64 210.52,160.54 211.22,160.51 211.9,161.21 212.57,160.6 213.21,161.64 213.82,165.41 214.39,161.39 214.93,162.07 215.43,161.38 215.87,164.85 216.26,161.17 216.6,161.47" fill="none" stroke="#0d0d0d" stroke-width="1.1" stroke-linejoin="miter" stroke-miterlimit="2"/>
<polyline points="46.6,204.28 46.82,204.14 47.06,203.3 47.32,204.2 47.61,203.41 47.91,203.44 48.24,203.92 48.59,203.01 48.95,203.97 49.33,203.16 49.72,203.99 50.13,203.22 50.55,203.87 50.98,203.49 51.42,204.25 51.86,203.42 52.32,204.33 52.78,202.99 53.25,204.3 53.72,203.2 54.19,204.14 54.67,203.06 55.14,203.51 55.61,203.85 56.08,203.54 56.55,204.22 57.01,203.55 57.47,204.34 57.92,203.61 58.35,204.3 58.78,203.35 59.2,204.32 59.61,203.19 60,204.42 60.42,204.41 60.85,203.41 61.27,204.26 61.69,203.21 62.11,204.22 62.52,203.7 62.94,204.28 63.36,203.43 63.77,204.28 64.19,204.32 64.6,203.79 65.01,204.11 65.41,203.65 65.82,204.06 66.22,203.72 66.63,204.43 67.03,203.76 67.43,204.3 67.82,203.63 68.21,204.16 68.61,203.87 68.99,203.66 69.38,204.35 69.76,204.33 70.14,203.86 70.52,204.47 70.9,203.86 71.27,203.94 71.64,204.5 72,204.37 72.46,203.81 72.92,204.22 73.4,203.73 73.87,204.32 74.35,203.82 74.83,204.55 75.31,204.18 75.79,204.38 76.27,204.05 76.74,204.67 77.2,204.26 77.65,204.54 78.09,204.19 78.52,204.79 78.94,204.08 79.34,204.59 79.73,204.38 80.09,204.6 80.44,204.66 80.76,204.66 81.06,204.44 81.33,204.85 81.58,204.39 81.8,204.71" fill="none" stroke="#0d0d0d" stroke-width="1.1" stroke-linejoin="miter" stroke-miterlimit="2"/>
<polyline points="81.8,204.6 82.04,204.67 82.35,205.28 82.71,205.88 83.13,206.17 83.57,206.57 84.02,207.49 84.48,207.87 84.92,208.44 85.33,208.99 85.7,209.52 86.07,210.01 86.43,210.58 86.78,211.06 87.11,211.64 87.43,212.12 87.74,212.66 88.04,213.26 88.33,213.77 88.6,214.27 88.89,214.96 89.15,215.5 89.39,216.16 89.62,216.79 89.85,217.39 90.06,217.94 90.28,218.8 90.5,218.95 90.73,220.01 90.95,220.63 91.17,221.27 91.39,221.49 91.61,222.5 91.81,222.69 92.01,223.41 92.2,224.06 92.35,224.22 92.49,225.24 92.61,226.24 92.73,226.42 92.85,227.17 92.97,227.81 93.1,228.37 93.24,229.37 93.4,230.07 93.56,230.26 93.72,231.17 93.89,231.46 94.06,232.07 94.24,232.59 94.43,233.26 94.63,233.42 94.84,234.47 95.07,234.9 95.3,235.23 95.58,236.14 95.88,236.66 96.19,237.15 96.52,237.99 96.86,238.11 97.2,238.69 97.54,239.16 97.87,239.76 98.2,240.27 98.49,240.89 98.78,241.78 99.07,241.6 99.36,242.63 99.65,243.15 99.94,243.81 100.23,244.32 100.52,245.45 100.81,245.51 101.1,246.11 101.42,246.66 101.75,247.25 102.07,248.3 102.39,248.36 102.72,248.99 103.04,249.47 103.36,249.52 103.68,250.88 104,250.98 104.45,251.59 104.86,251.89 105.27,252.5 105.71,252.78 106.21,253.47 106.8,253.83 107.24,254.91 107.71,254.59 108.21,254.65 108.73,255.21 109.28,255.31 109.86,255.88 110.45,255.94 111.07,257.41 111.7,255.68 112.24,257.94 112.81,257.09 113.4,257.68 114,256.4 114.62,257.81 115.25,259.58 115.89,257.23 116.52,258.49 117.16,258.95 117.78,257.4 118.4,259.33 119.03,259.13 119.71,259.4 120.41,259.26 121.12,259.82 121.82,259.49 122.51,260.19 123.16,260.3 123.76,259.96 124.29,257.99 124.74,260.41 125.1,258.02" fill="none" stroke="#0d0d0d" stroke-width="1.1" stroke-linejoin="miter" stroke-miterlimit="2"/>
<polyline points="81.8,204.81 82.18,204.5 82.79,204.31 83.8,204.3 84.28,204.32 84.85,204.56 85.49,204.35 86.18,204.47 86.89,204.32 87.6,204.64 88.28,204.7 88.93,204.85 89.5,205 90.15,205.22 90.75,205.19 91.3,205.71 91.83,206.04 92.35,206.14 92.86,207.02 93.4,207.24 93.75,207.83 94.1,208.43 94.44,208.72 94.78,209.29 95.13,209.67 95.47,210.63 95.82,211.06 96.16,211.6 96.5,212.18 96.85,213.01 97.2,213.15 97.52,214.19 97.85,214.28 98.17,215.08 98.5,215.59 98.82,216.22 99.15,216.81 99.48,217.32 99.8,217.94 100.13,218.46 100.45,219.28 100.78,219.81 101.1,219.87 101.45,220.69 101.81,221.2 102.17,221.78 102.53,222.3 102.88,222.86 103.24,223.39 103.59,223.88 103.93,224.47 104.27,224.9 104.59,225.42 104.9,225.94 105.26,226.43 105.6,227.03 105.93,227.9 106.25,228.08 106.56,228.52 106.87,229.12 107.17,229.21 107.48,230.18 107.8,230.79 108.09,231.16 108.38,231.86 108.67,232.28 108.96,233 109.25,232.85 109.54,234.26 109.83,234.86 110.12,235.25 110.41,235.42 110.7,236.64 110.99,236.37 111.28,238.37 111.57,238.19 111.86,238.86 112.15,238.58 112.44,240.05 112.73,240.35 113.02,241.2 113.31,241.61 113.6,241.42 113.89,242.6 114.18,243.36 114.47,244.67 114.76,244.7 115.06,245.07 115.35,245.7 115.64,246.39 115.93,246.76 116.21,247.67 116.5,248.82 116.81,248.58 117.11,250.67 117.4,249.69 117.69,250.28 117.99,249.16 118.29,252.57 118.61,250.2 118.94,250.37 119.3,253.04 119.7,253.17 120.13,255.11 120.59,253.85 121.07,253.27 121.54,255.39 122.01,255.25 122.45,256.21 122.85,254.36 123.2,259.48 123.86,257.02 124.39,257.44 124.81,257.91 125.1,258.69" fill="none" stroke="#0d0d0d" stroke-width="1.1" stroke-linejoin="miter" stroke-miterlimit="2"/>
<polyline points="152.1,208.39 152.33,203.28 152.61,204.5 152.94,206.92 153.29,204.46 153.69,206.44 154.11,204.49 154.55,207.02 155.01,204.3 155.5,203.36 155.99,208.08 156.49,203.39 157,207.07 157.5,203.57 158,204.2 158.35,207.52 158.72,203.87 159.1,203.78 159.49,206.67 159.89,204.69 160.29,206.99 160.7,204.78 161.12,207.39 161.54,204.34 161.96,206.22 162.39,205.29 162.81,206.22 163.23,205.17 163.64,206.99 164.06,206.67 164.46,205.6 164.86,206.85 165.25,205.25 165.63,206.55 166,206.57 166.45,205.49 166.9,206.78 167.35,205.85 167.8,205.81 168.24,206.73 168.68,206.6 169.11,205.79 169.53,206.55 169.94,205.92 170.35,206.54 170.74,206.09 171.12,206.29 171.49,206.55 171.84,206.57 172.18,206.01 172.5,206.37 172.9,205.93 173.26,205.99 173.59,205.4 173.89,205.33 174.17,204.93 174.44,204.22 174.69,204.02 174.94,203.46 175.2,203.3 175.45,202.87 175.72,202.84 176,202.31 176.46,202.51 176.96,202.25 177.47,202.26 177.97,202.69 178.44,202.55 178.87,202.92 179.23,202.76 179.5,203.11" fill="none" stroke="#0d0d0d" stroke-width="1.1" stroke-linejoin="miter" stroke-miterlimit="2"/>
<polyline points="179.5,203.04 179.56,203.32 179.63,203.84 179.71,204.32 179.8,204.92 179.91,205.54 180.04,206.55 180.2,207.09 180.38,207.94 180.6,208.77 180.72,209.25 180.85,209.8 181,210.27 181.15,211.04 181.31,211.32 181.47,211.9 181.64,212.5 181.82,213.36 182,213.49 182.19,214.36 182.37,214.9 182.56,215.76 182.75,216.17 182.95,216.81 183.14,217.23 183.33,217.98 183.51,218.65 183.7,218.98 183.88,219.8 184.07,220.31 184.26,220.68 184.45,221.53 184.64,222.12 184.84,222.63 185.03,223.27 185.23,223.82 185.42,224.46 185.62,224.94 185.82,225.58 186.02,225.78 186.22,226.76 186.41,227.28 186.61,228.26 186.81,228.39 187,229.27 187.2,229.32 187.39,230.26 187.59,230.72 187.78,231.38 187.98,231.98 188.18,232.55 188.37,233.29 188.57,233.77 188.76,235.08 188.96,234.91 189.15,235.74 189.35,236.12 189.54,236.96 189.74,237.35 189.93,239.09 190.12,237.38 190.32,239.04 190.51,239.28 190.7,241.4 190.98,240.91 191.26,240.33 191.54,243.46 191.81,242.32 192.08,243.39 192.35,243.83 192.62,244.18 192.9,246.52 193.19,245.08 193.48,245.99 193.79,246.19 194.1,247.01 194.39,247.89 194.68,247.54 194.98,248.68 195.27,249.45 195.57,247.24 195.87,252.9 196.18,250.54 196.51,253.94 196.85,251.64 197.2,252.85 197.58,253.28 197.98,250.9 198.4,255.89 198.81,254.02 199.23,254.22 199.66,255.34 200.11,258.03 200.57,255.48 201.04,256.03 201.53,256.75 202.03,256.7 202.55,253.91 203.08,257.85 203.63,257.95 204.2,257.91 204.79,258.81 205.4,258.95 205.89,259.72 206.38,259.39 206.88,260.1 207.4,256.06 207.92,257.85 208.46,259.81 209,260.8 209.55,257.23 210.12,261.51 210.69,257.65 211.28,261.25 211.88,261.39 212.49,260.93 213.11,259 213.74,265.6 214.38,261.54 215.03,263 215.7,259.1 216.25,266.59 216.83,259.08 217.44,263.15 218.08,262.71 218.74,264 219.42,262.79 220.11,264.38 220.82,263.19 221.53,267.72 222.24,260.4 222.94,267.22 223.64,264.52 224.33,265.43 225,264.79 225.65,265.05 226.28,264.58 226.87,265 227.44,265.76 227.96,265.31 228.45,266.35 228.88,265.79 229.27,265.92 229.6,265.53" fill="none" stroke="#0d0d0d" stroke-width="1.1" stroke-linejoin="miter" stroke-miterlimit="2"/>
<polyline points="179.5,203.23 180,202.97 180.73,203.46 181.5,204.26 181.7,204.64 181.89,205.07 182.09,205.37 182.29,206.1 182.49,206.55 182.7,207.21 182.91,207.79 183.14,208.67 183.38,208.9 183.63,210.11 183.9,210.6 184.07,211.07 184.26,211.61 184.44,212.09 184.64,212.65 184.84,213.15 185.04,213.77 185.25,214.32 185.47,215.22 185.68,215.5 185.9,216.19 186.12,216.72 186.33,217.66 186.55,217.73 186.77,218.64 186.98,219.19 187.19,219.87 187.4,220.38 187.6,221.05 187.8,221.53 188,222.16 188.21,222.71 188.41,223.32 188.61,224.15 188.82,224.51 189.02,225.08 189.22,225.7 189.42,226.23 189.62,227.22 189.82,227.4 190.01,227.92 190.21,228.56 190.39,229.51 190.58,229.63 190.76,230.3 190.93,230.73 191.1,231.77 191.29,231.88 191.48,232.56 191.65,232.45 191.81,233.82 191.97,233.57 192.13,235.02 192.28,234.59 192.43,236.18 192.58,236.87 192.74,237.35 192.89,238.67 193.06,238.17 193.23,239.86 193.41,238.33 193.6,239.92 193.85,241.94 194.1,241.25 194.35,242.04 194.61,244.27 194.88,242.79 195.15,244.04 195.43,244.58 195.72,244.43 196.02,245.74 196.34,245.59 196.66,248.73 197,246.76 197.37,247.88 197.75,248.1 198.13,248.01 198.51,249.34 198.91,246.5 199.33,251.89 199.78,249.83 200.25,251.12 200.76,251 201.31,251.32 201.9,249.97 202.33,252.66 202.78,252.51 203.25,252.54 203.73,253.91 204.22,253.4 204.73,256.37 205.26,253.86 205.8,255.19 206.35,255.07 206.92,255.92 207.5,252.32 208.1,256.7 208.7,259.1 209.32,256.4 209.96,257.21 210.6,256.82 211.13,260.69 211.69,257.09 212.27,258.23 212.87,255.77 213.49,258.81 214.12,258.56 214.76,258.14 215.41,261.84 216.06,259.61 216.71,258.76 217.37,262.33 218.01,260 218.65,256.68 219.29,259.87 219.9,256.2 220.51,260.73 221.09,256.95 221.65,263.05 222.19,259.89 222.7,264.19 223.46,257.53 224.2,257.92 224.94,263.93 225.65,260.76 226.33,261.22 226.99,264.94 227.61,261.24 228.2,262.11 228.74,266.25 229.24,262.3 229.68,262.16 230.07,262.33 230.4,266.26" fill="none" stroke="#0d0d0d" stroke-width="1.1" stroke-linejoin="miter" stroke-miterlimit="2"/>
<polyline points="46.3,303.21 46.55,302.26 46.89,303.39 47.29,300.6 47.74,302.51 48.21,302.77 48.7,300.75 49.17,303.36 49.61,300.99 50,302.69 50.46,301.7 50.9,303.55 51.33,301.51 51.74,303.56 52.12,302.07 52.48,303.14 52.8,301.5 53.02,302.65 53.21,301.51 53.39,301.77 53.54,300.28 53.68,300.81 53.83,299.97 53.97,300.22 54.13,298.71 54.3,298.91 54.43,298.08 54.58,298.18 54.73,297.29 54.89,296.86 55.05,296.86 55.21,296.01 55.37,295.82 55.53,295.11 55.67,295.12 55.8,294.33 55.92,294.41 56.02,293.87 56.1,293.78" fill="none" stroke="#0d0d0d" stroke-width="1.1" stroke-linejoin="miter" stroke-miterlimit="2"/>
<polyline points="56.1,293.73 56.23,294.05 56.41,295.12 56.64,295.84 56.9,296.63 57.2,298.09 57.37,298.56 57.54,299.66 57.73,300.03 57.93,301.29 58.14,301.56 58.35,303.02 58.58,303.35 58.81,305.04 59.05,305.51 59.3,306.91 59.51,306.86 59.73,308.31 59.95,308.85 60.18,310.31 60.42,310.38 60.66,312.18 60.9,312.6 61.15,313.09 61.41,314.71 61.67,314.72 61.93,316.38 62.2,317.59 62.47,317.31 62.75,319.03 63.03,318.44 63.32,321.13 63.61,320.54 63.91,321.06 64.21,323.77 64.52,322.55 64.83,325.12 65.15,324.21 65.47,326.82 65.8,326.17 66.19,328.28 66.58,329.74 66.97,328.58 67.36,331.25 67.77,330.31 68.19,332.59 68.63,333.08 69.09,334.04 69.58,333.56 70.1,336.81 70.6,335.14 71.12,336.74 71.65,336.16 72.21,338.28 72.78,336.85 73.37,339.26 73.98,338.04 74.61,340.93 75.25,338.51 75.92,343.94 76.6,340.84 77.24,340.83 77.91,345.6 78.59,345.23 79.29,341.71 80,345.84 80.72,347.64 81.46,345.17 82.21,348.53 82.97,345.41 83.74,345.79 84.52,349.31 85.3,347.63 86.08,351.19 86.87,348.74 87.66,347.73 88.46,350.67 89.26,347.6 90.08,353.14 90.92,350.19 91.77,348.55 92.64,352.41 93.53,354.11 94.45,351.18 95.4,355.69 96.21,350.19 97.09,355.61 98.02,350.89 99,354.57 100,353.23 101.02,357.3 102.03,353.68 103.03,357.98 104,354.03 104.92,356.8 105.79,354.01 106.59,358.48 107.3,353.78 107.9,357.99 108.4,355.31" fill="none" stroke="#0d0d0d" stroke-width="0.95" stroke-linejoin="miter" stroke-miterlimit="2"/>
<polyline points="56.1,293.8 56.47,294.18 56.99,295.09 57.59,295.88 58.2,297.54 58.47,297.67 58.74,299.04 59.02,299.21 59.31,300.65 59.6,300.9 59.9,302.65 60.2,303.04 60.5,304.52 60.8,304.8 61.02,306.19 61.24,306.56 61.46,307.03 61.69,308.78 61.91,308.68 62.13,310.33 62.36,310.53 62.59,312.3 62.83,312.58 63.08,314.13 63.33,314.2 63.6,315.99 63.87,315.26 64.15,317.73 64.43,317.21 64.72,319.03 65.01,318.58 65.31,321.31 65.62,320.44 65.94,323.03 66.26,322.51 66.6,324.86 66.94,323.33 67.3,326.96 67.7,325.43 68.1,326.42 68.51,328.54 68.93,327.54 69.36,328.12 69.81,332.06 70.27,329.1 70.74,332.57 71.24,330.6 71.76,332.07 72.3,335.02 72.82,333.47 73.36,336.53 73.91,334.37 74.48,337.45 75.07,336.62 75.67,338.8 76.28,337.3 76.91,337.44 77.54,341.05 78.19,339.72 78.84,342.26 79.5,339.92 80.16,340.06 80.83,344.16 81.5,341.37 82.19,341.09 82.88,346.24 83.58,342.44 84.3,342.78 85.04,347.41 85.79,344.21 86.57,347.51 87.37,344.4 88.2,348.02 88.94,346.26 89.72,348.26 90.53,346.09 91.36,349.61 92.22,347.27 93.08,347.74 93.95,351.24 94.82,351.36 95.68,350.6 96.54,349.55 97.37,351.56 98.18,348 98.96,352.32 99.7,348.42 100.72,352.44 101.76,348.97 102.79,354.25 103.8,351.87 104.77,355.11 105.68,350.78 106.52,356.03 107.26,352.72 107.89,355.33 108.4,352.9" fill="none" stroke="#0d0d0d" stroke-width="0.95" stroke-linejoin="miter" stroke-miterlimit="2"/>
<polyline points="155,302.14 155.27,301.63 155.64,302.28 156.08,301.99 156.56,301.82 157.06,302.44 157.55,301.83 158,302.37 158.44,302 158.9,302.08 159.36,302.61 159.82,302.45 160.25,302.57 160.65,302.22 161,302.08 161.12,301.53 161.24,301.45 161.35,300.87 161.46,300.8 161.57,300.38 161.67,299.7 161.76,299.44 161.85,298.64 161.94,298.53 162.02,297.7 162.09,297.47 162.17,296.71 162.23,296.54 162.3,295.9 162.35,295.77 162.41,295.16 162.46,295.22 162.5,294.83" fill="none" stroke="#0d0d0d" stroke-width="1.1" stroke-linejoin="miter" stroke-miterlimit="2"/>
<polyline points="162.5,294.83 162.73,295.34 163.06,295.62 163.44,296.05 163.85,296.95 164.25,297.59 164.6,298.47 164.83,298.8 165.05,299.37 165.26,299.7 165.47,300.5 165.67,301.03 165.88,301.74 166.09,302.57 166.3,302.88 166.45,303.64 166.6,304.16 166.76,304.75 166.91,305.35 167.07,305.9 167.23,306.6 167.39,307.37 167.54,307.62 167.69,308.48 167.83,308.9 167.97,309.69 168.1,310.32 168.22,310.86 168.33,311.49 168.44,312.03 168.54,312.67 168.64,313.5 168.74,313.9 168.83,314.28 168.92,315.24 169.01,315.45 169.11,316.16 169.2,316.79 169.3,317.41 169.4,318.03 169.5,318.58 169.6,319.3 169.7,319.86 169.8,320.79 169.9,320.92 170,321.78 170.1,322.21 170.2,323.15 170.3,323.52 170.4,324.12 170.5,324.78 170.65,325.27 170.79,325.76 170.92,326.57 171.06,327.14 171.21,327.65 171.36,328.11 171.52,329.04 171.7,329.27 171.89,330.21 172.09,330.51 172.3,331.6 172.52,331.82 172.75,332.56 172.99,333.07 173.24,333.65 173.5,333.64 173.8,335.48 174.11,335.31 174.42,336.03 174.76,336.39 175.11,337.15 175.49,337.48 175.9,338.15 176.29,339.43 176.69,338.94 177.11,339.31 177.56,340.87 178.02,340.36 178.49,341.88 178.99,341.27 179.5,340.86 180.03,342.4 180.6,342.45 181.18,342.87 181.77,342.86 182.38,343.17 182.99,343.94 183.6,342.74 184.2,345.77 184.73,344.57 185.26,346.1 185.79,344.95 186.33,345.76 186.86,344.49 187.4,346.13 187.93,346.28 188.47,346.79 189,346.98 189.59,347.4 190.17,347.56 190.75,348.2 191.33,347.97 191.92,349.88 192.52,348.62 193.15,350.36 193.8,347.58 194.35,349.99 194.91,349.84 195.49,350.43 196.08,350.72 196.68,350.47 197.28,352.97 197.89,349.23 198.5,351.76 199.1,351.47 199.7,353.79 200.3,350.8 200.9,354.18 201.5,352.69 202.1,352.6 202.7,354.54 203.3,351.72 203.9,353.73 204.5,351.75 205.1,355.12 205.7,353.72 206.3,354.37 206.9,354.23 207.51,354.67 208.12,354.65 208.72,354.91 209.32,354.78 209.91,355.31 210.49,353.21 211.05,355.65 211.6,355.36 212.29,355.71 212.99,355.62 213.69,356.01 214.37,354.44 215,356.51 215.56,356.32 216.04,356.66 216.4,355.08" fill="none" stroke="#0d0d0d" stroke-width="1.1" stroke-linejoin="miter" stroke-miterlimit="2"/>
<polyline points="162.5,294.82 162.72,295.08 163.03,295.54 163.4,295.98 163.79,296.57 164.2,297.15 164.57,297.69 164.9,298.33 165.15,298.84 165.37,299.51 165.58,299.86 165.79,300.72 165.99,301.02 166.18,301.9 166.39,302.34 166.6,303.27 166.75,303.38 166.9,304.21 167.06,304.5 167.21,305.33 167.37,305.98 167.53,306.28 167.69,307.19 167.84,307.78 167.99,308.5 168.13,309.29 168.27,309.49 168.4,310.31 168.52,310.87 168.63,311.45 168.74,312.32 168.84,312.66 168.94,313.28 169.04,313.82 169.13,314.44 169.22,315.02 169.31,315.66 169.41,316.18 169.5,317.08 169.6,317.56 169.7,317.98 169.8,318.64 169.9,319.21 170,319.94 170.1,320.5 170.2,321.39 170.3,321.78 170.4,322.66 170.5,323.03 170.6,323.6 170.7,324.13 170.8,324.58 170.97,325.57 171.13,326.07 171.28,326.61 171.44,327.28 171.61,327.74 171.8,328.4 172,328.97 172.19,329.97 172.39,329.8 172.6,330.84 172.83,331.43 173.05,332.13 173.29,332.65 173.54,333.15 173.8,333.82 174.15,334.52 174.51,334.27 174.89,336.3 175.29,336.08 175.72,337.54 176.2,338.31 176.59,336.85 176.99,337.95 177.41,338.56 177.86,338.88 178.32,339.6 178.79,339.69 179.29,341.02 179.8,340.54 180.33,340.96 180.9,339.8 181.48,341.53 182.07,340.38 182.68,342.22 183.29,343.58 183.9,341.17 184.5,342.69 185.1,344.09 185.7,343.38 186.31,343.95 186.91,344.05 187.52,344.17 188.12,343.05 188.71,345.15 189.3,343.4 189.87,346.75 190.41,345.79 190.95,345.96 191.48,346.35 192.02,346.36 192.58,348.27 193.17,347.09 193.8,347.27 194.33,347.97 194.89,347.5 195.46,348.37 196.05,346.83 196.66,348.66 197.27,347.44 197.88,350.9 198.49,348.99 199.1,349.59 199.7,348.25 200.3,351.63 200.9,348.42 201.5,352.01 202.1,348.54 202.7,350.66 203.3,349.27 203.9,350.9 204.5,352.62 205.1,350.73 205.7,351.31 206.3,351.17 206.9,351.16 207.51,351.77 208.12,351.53 208.72,353.3 209.32,352.3 209.91,352.08 210.49,352.4 211.05,352.65 211.6,353.85 212.29,352.22 212.99,352.66 213.69,352.67 214.37,352.53 215,354.92 215.56,352.84 216.04,354.61 216.4,353.09" fill="none" stroke="#0d0d0d" stroke-width="1.1" stroke-linejoin="miter" stroke-miterlimit="2"/>
<line x1="49.8" y1="38.2" x2="49.8" y2="46" stroke="#333" stroke-width="0.9"/>
<polygon points="49.8,35 48.1,38.5 51.5,38.5" fill="#222"/>
<text x="49.9" y="52.6" font-size="6.2" text-anchor="middle" fill="#2a2a2a" stroke="#2a2a2a" stroke-width="0.14">CRP</text>
<text x="49.9" y="60.3" font-size="6.2" text-anchor="middle" fill="#2a2a2a" stroke="#2a2a2a" stroke-width="0.14">0.5 µg/mL</text>
<line x1="158.4" y1="38.4" x2="158.4" y2="46" stroke="#333" stroke-width="0.9"/>
<polygon points="158.4,35.2 156.7,38.7 160.1,38.7" fill="#222"/>
<text x="158.6" y="52.6" font-size="6.2" text-anchor="middle" fill="#2a2a2a" stroke="#2a2a2a" stroke-width="0.14">CRP</text>
<text x="158.6" y="60.3" font-size="6.2" text-anchor="middle" fill="#2a2a2a" stroke="#2a2a2a" stroke-width="0.14">1 µg/mL</text>
<line x1="49.7" y1="119.7" x2="49.7" y2="128" stroke="#333" stroke-width="0.9"/>
<polygon points="49.7,116.5 48,120 51.4,120" fill="#222"/>
<text x="49.7" y="135" font-size="6.2" text-anchor="middle" fill="#2a2a2a" stroke="#2a2a2a" stroke-width="0.14">Collagen</text>
<text x="49.7" y="142.2" font-size="6.2" text-anchor="middle" fill="#2a2a2a" stroke="#2a2a2a" stroke-width="0.14">0.5 µg/mL</text>
<line x1="158.2" y1="119.7" x2="158.2" y2="127.7" stroke="#333" stroke-width="0.9"/>
<polygon points="158.2,116.5 156.5,120 159.9,120" fill="#222"/>
<text x="155.1" y="135" font-size="6.2" text-anchor="middle" fill="#2a2a2a" stroke="#2a2a2a" stroke-width="0.14">Collagen</text>
<text x="155.1" y="142" font-size="6.2" text-anchor="middle" fill="#2a2a2a" stroke="#2a2a2a" stroke-width="0.14">1 µg/mL</text>
<line x1="50.9" y1="213.2" x2="50.9" y2="219" stroke="#333" stroke-width="0.9"/>
<polygon points="50.9,210 49.2,213.5 52.6,213.5" fill="#222"/>
<text x="51.2" y="229" font-size="6.2" text-anchor="middle" fill="#2a2a2a" stroke="#2a2a2a" stroke-width="0.14">CLEC2 Ab</text>
<text x="51.2" y="236.5" font-size="6.2" text-anchor="middle" fill="#2a2a2a" stroke="#2a2a2a" stroke-width="0.14">5 µg/mL</text>
<line x1="158.2" y1="213.7" x2="158.2" y2="220" stroke="#333" stroke-width="0.9"/>
<polygon points="158.2,210.5 156.5,214 159.9,214" fill="#222"/>
<text x="158.5" y="228.6" font-size="6.2" text-anchor="middle" fill="#2a2a2a" stroke="#2a2a2a" stroke-width="0.14">CLEC2 Ab</text>
<text x="158.5" y="235.6" font-size="6.2" text-anchor="middle" fill="#2a2a2a" stroke="#2a2a2a" stroke-width="0.14">10 µg/mL</text>
<line x1="51.8" y1="311.8" x2="51.8" y2="318.9" stroke="#333" stroke-width="0.9"/>
<polygon points="51.8,308.6 50.1,312.1 53.5,312.1" fill="#222"/>
<text x="49.4" y="326.3" font-size="6.2" text-anchor="middle" fill="#2a2a2a" stroke="#2a2a2a" stroke-width="0.14">U46619</text>
<text x="49.4" y="333.8" font-size="6.2" text-anchor="middle" fill="#2a2a2a" stroke="#2a2a2a" stroke-width="0.14">0.1 µM</text>
<line x1="158.2" y1="311.8" x2="158.2" y2="318.9" stroke="#333" stroke-width="0.9"/>
<polygon points="158.2,308.6 156.5,312.1 159.9,312.1" fill="#222"/>
<text x="155.2" y="326" font-size="6.2" text-anchor="middle" fill="#2a2a2a" stroke="#2a2a2a" stroke-width="0.14">Thrombin</text>
<text x="155.2" y="333.4" font-size="6.2" text-anchor="middle" fill="#2a2a2a" stroke="#2a2a2a" stroke-width="0.14">0.1 U/mL</text>
<text x="104.5" y="67.6" font-size="6.2" text-anchor="middle" fill="#333" stroke="#333" stroke-width="0.14">WT</text>
<text x="212.9" y="68.1" font-size="6.2" text-anchor="middle" fill="#333" stroke="#333" stroke-width="0.14">WT</text>
<text x="102.7" y="144.2" font-size="6.2" text-anchor="middle" fill="#333" stroke="#333" stroke-width="0.14">WT</text>
<text x="211.8" y="154.9" font-size="6.2" text-anchor="middle" fill="#333" stroke="#333" stroke-width="0.14">WT</text>
<text x="118.5" y="233.9" font-size="6.2" text-anchor="middle" fill="#333" stroke="#333" stroke-width="0.14">WT</text>
<text x="224.8" y="253.4" font-size="6.2" text-anchor="middle" fill="#333" stroke="#333" stroke-width="0.14">WT</text>
<text x="103.1" y="370.2" font-size="6.2" text-anchor="middle" fill="#333" stroke="#333" stroke-width="0.14">WT</text>
<text x="212.7" y="370.4" font-size="6.2" text-anchor="middle" fill="#333" stroke="#333" stroke-width="0.14">WT</text>
<text x="95.2" y="94.6" font-size="6.2" text-anchor="start" fill="#1e1e1e"><tspan font-style="italic">Ptpn11</tspan><tspan font-size="3.6" dy="-1.67">T468M/+</tspan></text>
<text x="202.8" y="94.4" font-size="6.2" text-anchor="start" fill="#1e1e1e"><tspan font-style="italic">Ptpn11</tspan><tspan font-size="3.6" dy="-1.67">T468M/+</tspan></text>
<text x="88.7" y="175.4" font-size="6.2" text-anchor="start" fill="#1e1e1e"><tspan font-style="italic">Ptpn11</tspan><tspan font-size="3.6" dy="-1.67">T468M/+</tspan></text>
<text x="194.8" y="180.3" font-size="6.2" text-anchor="start" fill="#1e1e1e"><tspan font-style="italic">Ptpn11</tspan><tspan font-size="3.6" dy="-1.67">T468M/+</tspan></text>
<text x="101.8" y="274.3" font-size="6.2" text-anchor="start" fill="#1e1e1e"><tspan font-style="italic">Ptpn11</tspan><tspan font-size="3.6" dy="-1.67">T468M/+</tspan></text>
<text x="203.5" y="279.8" font-size="6.2" text-anchor="start" fill="#1e1e1e"><tspan font-style="italic">Ptpn11</tspan><tspan font-size="3.6" dy="-1.67">T468M/+</tspan></text>
<text x="91.8" y="342.6" font-size="6.2" text-anchor="start" fill="#1e1e1e"><tspan font-style="italic">Ptpn11</tspan><tspan font-size="3.6" dy="-1.67">T468M/+</tspan></text>
<text x="203.8" y="345.8" font-size="6.2" text-anchor="start" fill="#1e1e1e"><tspan font-style="italic">Ptpn11</tspan><tspan font-size="3.6" dy="-1.67">T468M/+</tspan></text>
<text x="28.4" y="366" font-size="6.2" text-anchor="end" fill="#2a2a2a" stroke="#2a2a2a" stroke-width="0.14">10%</text>
<line x1="31.9" y1="361.5" x2="31.9" y2="367.8" stroke="#1a1a1a" stroke-width="1.15"/>
<polygon points="31.9,358.8 30.5,362.6 33.3,362.6" fill="#1a1a1a"/>
<line x1="31.4" y1="367.3" x2="39.6" y2="367.3" stroke="#1a1a1a" stroke-width="1.15"/>
<polygon points="43.0,367.3 39.2,365.9 39.2,368.7" fill="#1a1a1a"/>
<text x="39.6" y="376" font-size="6" text-anchor="middle" fill="#333" stroke="#333" stroke-width="0.14">1 min</text>
<line x1="52.5" y1="414" x2="52.5" y2="490.12" stroke="#1a1a1a" stroke-width="1.25"/>
<line x1="51.88" y1="489.5" x2="163" y2="489.5" stroke="#1a1a1a" stroke-width="1.25"/>
<line x1="49.8" y1="489.3" x2="52.5" y2="489.3" stroke="#1a1a1a" stroke-width="1"/>
<text x="46.4" y="491.57" font-size="6.3" text-anchor="end" fill="#1e1e1e" stroke="#1e1e1e" stroke-width="0.07">0</text>
<line x1="49.8" y1="465.2" x2="52.5" y2="465.2" stroke="#1a1a1a" stroke-width="1"/>
<text x="46.4" y="467.47" font-size="6.3" text-anchor="end" fill="#1e1e1e" stroke="#1e1e1e" stroke-width="0.07">10</text>
<line x1="49.8" y1="441.1" x2="52.5" y2="441.1" stroke="#1a1a1a" stroke-width="1"/>
<text x="46.4" y="443.37" font-size="6.3" text-anchor="end" fill="#1e1e1e" stroke="#1e1e1e" stroke-width="0.07">20</text>
<line x1="49.8" y1="417" x2="52.5" y2="417" stroke="#1a1a1a" stroke-width="1"/>
<text x="46.4" y="419.27" font-size="6.3" text-anchor="end" fill="#1e1e1e" stroke="#1e1e1e" stroke-width="0.07">30</text>
<rect x="58.7" y="487.09" width="6.7" height="2.21" fill="#a6002a" stroke="#80001f" stroke-width="0.45"/>
<rect x="69.2" y="487.09" width="6.7" height="2.21" fill="#2d4a82" stroke="#1c3565" stroke-width="0.45"/>
<line x1="89.35" y1="477.25" x2="89.35" y2="479.66" stroke="#1a1a1a" stroke-width="0.8"/>
<line x1="87.75" y1="477.25" x2="90.95" y2="477.25" stroke="#1a1a1a" stroke-width="1"/>
<rect x="86" y="479.86" width="6.7" height="9.44" fill="#a6002a" stroke="#80001f" stroke-width="0.45"/>
<line x1="99.25" y1="468.09" x2="99.25" y2="470.02" stroke="#1a1a1a" stroke-width="0.8"/>
<line x1="97.65" y1="468.09" x2="100.85" y2="468.09" stroke="#1a1a1a" stroke-width="1"/>
<rect x="95.9" y="470.22" width="6.7" height="19.08" fill="#2d4a82" stroke="#1c3565" stroke-width="0.45"/>
<line x1="116.35" y1="471.23" x2="116.35" y2="471.95" stroke="#1a1a1a" stroke-width="0.8"/>
<line x1="114.75" y1="471.23" x2="117.95" y2="471.23" stroke="#1a1a1a" stroke-width="1"/>
<rect x="113" y="472.15" width="6.7" height="17.15" fill="#a6002a" stroke="#80001f" stroke-width="0.45"/>
<line x1="126.95" y1="442.31" x2="126.95" y2="448.81" stroke="#1a1a1a" stroke-width="0.8"/>
<line x1="125.35" y1="442.31" x2="128.55" y2="442.31" stroke="#1a1a1a" stroke-width="1"/>
<rect x="123.6" y="449.01" width="6.7" height="40.29" fill="#2d4a82" stroke="#1c3565" stroke-width="0.45"/>
<line x1="143.55" y1="464.24" x2="143.55" y2="466.89" stroke="#1a1a1a" stroke-width="0.8"/>
<line x1="141.95" y1="464.24" x2="145.15" y2="464.24" stroke="#1a1a1a" stroke-width="1"/>
<rect x="140.2" y="467.09" width="6.7" height="22.21" fill="#a6002a" stroke="#80001f" stroke-width="0.45"/>
<line x1="153.75" y1="429.77" x2="153.75" y2="440.62" stroke="#1a1a1a" stroke-width="0.8"/>
<line x1="152.15" y1="429.77" x2="155.35" y2="429.77" stroke="#1a1a1a" stroke-width="1"/>
<rect x="150.4" y="440.82" width="6.7" height="48.48" fill="#2d4a82" stroke="#1c3565" stroke-width="0.45"/>
<rect x="60.5" y="415.4" width="5.2" height="1.9" fill="#a6002a"/>
<rect x="60.5" y="420.7" width="5.2" height="1.9" fill="#2d4a82"/>
<text x="67" y="417.6" font-size="5" text-anchor="start" fill="#3c3c3c" stroke="none">WT</text>
<text x="67" y="422.9" font-size="5" text-anchor="start" fill="#3c3c3c"><tspan font-style="italic">Ptpn11</tspan><tspan font-size="2.9" dy="-1.35">T468M/+</tspan></text>
<polyline points="88.8,463 88.8,460.4 99.6,460.4 99.6,463" fill="none" stroke="#1a1a1a" stroke-width="0.8"/>
<text x="94.2" y="457.3" font-size="5.2" text-anchor="middle" fill="#222" stroke="#222" stroke-width="0.14">#</text>
<polyline points="116.3,430.6 116.3,428 126.9,428 126.9,430.6" fill="none" stroke="#1a1a1a" stroke-width="0.8"/>
<text x="121.6" y="424.9" font-size="5.2" text-anchor="middle" fill="#222" stroke="#222" stroke-width="0.14">#</text>
<polyline points="143.5,421 143.5,418.4 154,418.4 154,421" fill="none" stroke="#1a1a1a" stroke-width="0.8"/>
<text x="148.7" y="415.9" font-size="5.2" text-anchor="middle" fill="#222" stroke="#222" stroke-width="0.14">#</text>
<text x="126.9" y="440.4" font-size="5.2" text-anchor="middle" fill="#222" stroke="#222" stroke-width="0.14">$$$</text>
<text x="153.8" y="427.7" font-size="5.2" text-anchor="middle" fill="#222" stroke="#222" stroke-width="0.14">$$$</text>
<text x="143.6" y="463.5" font-size="5.2" text-anchor="middle" fill="#222" stroke="#222" stroke-width="0.14">**</text>
<text x="67.2" y="498.9" font-size="6.2" text-anchor="middle" fill="#1e1e1e" stroke="#1e1e1e" stroke-width="0.14">Resting</text>
<text x="94.6" y="498.9" font-size="6.2" text-anchor="middle" fill="#1e1e1e" stroke="#1e1e1e" stroke-width="0.14">1 min</text>
<text x="121.6" y="498.9" font-size="6.2" text-anchor="middle" fill="#1e1e1e" stroke="#1e1e1e" stroke-width="0.14">3 min</text>
<text x="148.8" y="498.9" font-size="6.2" text-anchor="middle" fill="#1e1e1e" stroke="#1e1e1e" stroke-width="0.14">5 min</text>
<text x="23.5" y="451" font-size="8.4" text-anchor="middle" fill="#2a2a2a" transform="rotate(-90 23.5 451)" stroke="none" textLength="85.3" lengthAdjust="spacingAndGlyphs">P-selectin surface expression</text>
<text x="33.4" y="451.7" font-size="8.4" text-anchor="middle" fill="#2a2a2a" transform="rotate(-90 33.4 451.7)" stroke="none" textLength="71.4" lengthAdjust="spacingAndGlyphs">(fold increase vs resting)</text>
<line x1="232.5" y1="414.6" x2="232.5" y2="490.12" stroke="#1a1a1a" stroke-width="1.25"/>
<line x1="231.88" y1="489.5" x2="341.5" y2="489.5" stroke="#1a1a1a" stroke-width="1.25"/>
<line x1="229.7" y1="489.5" x2="232.5" y2="489.5" stroke="#1a1a1a" stroke-width="1"/>
<text x="226.3" y="491.77" font-size="6.3" text-anchor="end" fill="#1e1e1e" stroke="#1e1e1e" stroke-width="0.07">0</text>
<line x1="229.7" y1="465.3" x2="232.5" y2="465.3" stroke="#1a1a1a" stroke-width="1"/>
<text x="226.3" y="467.57" font-size="6.3" text-anchor="end" fill="#1e1e1e" stroke="#1e1e1e" stroke-width="0.07">2000</text>
<line x1="229.7" y1="441.1" x2="232.5" y2="441.1" stroke="#1a1a1a" stroke-width="1"/>
<text x="226.3" y="443.37" font-size="6.3" text-anchor="end" fill="#1e1e1e" stroke="#1e1e1e" stroke-width="0.07">4000</text>
<line x1="229.7" y1="416.9" x2="232.5" y2="416.9" stroke="#1a1a1a" stroke-width="1"/>
<text x="226.3" y="419.17" font-size="6.3" text-anchor="end" fill="#1e1e1e" stroke="#1e1e1e" stroke-width="0.07">6000</text>
<line x1="244.15" y1="482.24" x2="244.15" y2="482.97" stroke="#1a1a1a" stroke-width="0.8"/>
<line x1="242.55" y1="482.24" x2="245.75" y2="482.24" stroke="#1a1a1a" stroke-width="1"/>
<rect x="239.6" y="483.17" width="9.1" height="6.33" fill="#a6002a" stroke="#80001f" stroke-width="0.45"/>
<line x1="257.65" y1="482.24" x2="257.65" y2="484.18" stroke="#1a1a1a" stroke-width="0.8"/>
<line x1="256.05" y1="482.24" x2="259.25" y2="482.24" stroke="#1a1a1a" stroke-width="1"/>
<rect x="253.1" y="484.38" width="9.1" height="5.12" fill="#2d4a82" stroke="#1c3565" stroke-width="0.45"/>
<line x1="280.15" y1="476.8" x2="280.15" y2="478.61" stroke="#1a1a1a" stroke-width="0.8"/>
<line x1="278.55" y1="476.8" x2="281.75" y2="476.8" stroke="#1a1a1a" stroke-width="1"/>
<rect x="275.6" y="478.81" width="9.1" height="10.69" fill="#a6002a" stroke="#80001f" stroke-width="0.45"/>
<line x1="293.75" y1="465.3" x2="293.75" y2="469.54" stroke="#1a1a1a" stroke-width="0.8"/>
<line x1="292.15" y1="465.3" x2="295.35" y2="465.3" stroke="#1a1a1a" stroke-width="1"/>
<rect x="289.2" y="469.74" width="9.1" height="19.76" fill="#2d4a82" stroke="#1c3565" stroke-width="0.45"/>
<line x1="316.45" y1="464.33" x2="316.45" y2="468.32" stroke="#1a1a1a" stroke-width="0.8"/>
<line x1="314.85" y1="464.33" x2="318.05" y2="464.33" stroke="#1a1a1a" stroke-width="1"/>
<rect x="311.9" y="468.52" width="9.1" height="20.98" fill="#a6002a" stroke="#80001f" stroke-width="0.45"/>
<line x1="329.75" y1="428.39" x2="329.75" y2="436.87" stroke="#1a1a1a" stroke-width="0.8"/>
<line x1="328.15" y1="428.39" x2="331.35" y2="428.39" stroke="#1a1a1a" stroke-width="1"/>
<rect x="325.2" y="437.06" width="9.1" height="52.43" fill="#2d4a82" stroke="#1c3565" stroke-width="0.45"/>
<rect x="240" y="414.6" width="5.8" height="2.2" fill="#a6002a"/>
<rect x="240" y="420.4" width="5.8" height="2.2" fill="#2d4a82"/>
<text x="247.1" y="417.1" font-size="5" text-anchor="start" fill="#3c3c3c" stroke="none">WT</text>
<text x="247.1" y="422.9" font-size="5" text-anchor="start" fill="#3c3c3c"><tspan font-style="italic">Ptpn11</tspan><tspan font-size="2.9" dy="-1.35">T468M/+</tspan></text>
<polyline points="319.4,416.8 319.4,414.2 330.8,414.2 330.8,416.8" fill="none" stroke="#1a1a1a" stroke-width="0.8"/>
<text x="325.1" y="411.6" font-size="5.2" text-anchor="middle" fill="#222" stroke="#222" stroke-width="0.14">#</text>
<text x="329.8" y="425.9" font-size="5.2" text-anchor="middle" fill="#222" stroke="#222" stroke-width="0.14">$$$</text>
<text x="316.4" y="463.6" font-size="5.2" text-anchor="middle" fill="#222" stroke="#222" stroke-width="0.14">*</text>
<text x="248" y="498.4" font-size="6.2" text-anchor="middle" fill="#1e1e1e" stroke="#1e1e1e" stroke-width="0.14">Resting</text>
<text x="287" y="498.4" font-size="6.2" text-anchor="middle" fill="#1e1e1e" stroke="#1e1e1e" stroke-width="0.14">1 min</text>
<text x="323" y="498.4" font-size="6.2" text-anchor="middle" fill="#1e1e1e" stroke="#1e1e1e" stroke-width="0.14">3 min</text>
<text x="196.2" y="451.6" font-size="7.9" text-anchor="middle" fill="#1e1e1e" transform="rotate(-90 196.2 451.6)" textLength="48" lengthAdjust="spacingAndGlyphs">TXB<tspan font-size="4.2" dy="1.5">2</tspan><tspan dy="-1.5"> production</tspan></text>
<text x="206.3" y="451.9" font-size="7.9" text-anchor="middle" fill="#1e1e1e" transform="rotate(-90 206.3 451.9)" textLength="51.8" lengthAdjust="spacingAndGlyphs">(pg/10<tspan font-size="4.2" dy="-2.2">8</tspan><tspan dy="2.2"> platelets)</tspan></text>
<line x1="402.5" y1="414" x2="402.5" y2="490.12" stroke="#1a1a1a" stroke-width="1.25"/>
<line x1="401.88" y1="489.5" x2="511.5" y2="489.5" stroke="#1a1a1a" stroke-width="1.25"/>
<line x1="399.1" y1="489.5" x2="402.5" y2="489.5" stroke="#1a1a1a" stroke-width="1"/>
<text x="395.7" y="491.77" font-size="6.3" text-anchor="end" fill="#1e1e1e" stroke="#1e1e1e" stroke-width="0.07">0</text>
<line x1="399.1" y1="474.95" x2="402.5" y2="474.95" stroke="#1a1a1a" stroke-width="1"/>
<text x="395.7" y="477.22" font-size="6.3" text-anchor="end" fill="#1e1e1e" stroke="#1e1e1e" stroke-width="0.07">1000</text>
<line x1="399.1" y1="460.4" x2="402.5" y2="460.4" stroke="#1a1a1a" stroke-width="1"/>
<text x="395.7" y="462.67" font-size="6.3" text-anchor="end" fill="#1e1e1e" stroke="#1e1e1e" stroke-width="0.07">2000</text>
<line x1="399.1" y1="445.85" x2="402.5" y2="445.85" stroke="#1a1a1a" stroke-width="1"/>
<text x="395.7" y="448.12" font-size="6.3" text-anchor="end" fill="#1e1e1e" stroke="#1e1e1e" stroke-width="0.07">3000</text>
<line x1="399.1" y1="431.3" x2="402.5" y2="431.3" stroke="#1a1a1a" stroke-width="1"/>
<text x="395.7" y="433.57" font-size="6.3" text-anchor="end" fill="#1e1e1e" stroke="#1e1e1e" stroke-width="0.07">4000</text>
<line x1="399.1" y1="416.75" x2="402.5" y2="416.75" stroke="#1a1a1a" stroke-width="1"/>
<text x="395.7" y="419.02" font-size="6.3" text-anchor="end" fill="#1e1e1e" stroke="#1e1e1e" stroke-width="0.07">5000</text>
<rect x="406.2" y="482.86" width="5.5" height="6.64" fill="#a6002a" stroke="#80001f" stroke-width="0.45"/>
<rect x="414.9" y="482.43" width="5.5" height="7.07" fill="#2d4a82" stroke="#1c3565" stroke-width="0.45"/>
<line x1="431.05" y1="476.4" x2="431.05" y2="478.73" stroke="#1a1a1a" stroke-width="0.8"/>
<line x1="429.45" y1="476.4" x2="432.65" y2="476.4" stroke="#1a1a1a" stroke-width="1"/>
<rect x="428.3" y="478.93" width="5.5" height="10.57" fill="#a6002a" stroke="#80001f" stroke-width="0.45"/>
<line x1="439.55" y1="473.06" x2="439.55" y2="473.64" stroke="#1a1a1a" stroke-width="0.8"/>
<line x1="437.95" y1="473.06" x2="441.15" y2="473.06" stroke="#1a1a1a" stroke-width="1"/>
<rect x="436.8" y="473.84" width="5.5" height="15.66" fill="#2d4a82" stroke="#1c3565" stroke-width="0.45"/>
<line x1="452.95" y1="472.33" x2="452.95" y2="473.93" stroke="#1a1a1a" stroke-width="0.8"/>
<line x1="451.35" y1="472.33" x2="454.55" y2="472.33" stroke="#1a1a1a" stroke-width="1"/>
<rect x="450.2" y="474.13" width="5.5" height="15.37" fill="#a6002a" stroke="#80001f" stroke-width="0.45"/>
<line x1="461.35" y1="458.07" x2="461.35" y2="460.98" stroke="#1a1a1a" stroke-width="0.8"/>
<line x1="459.75" y1="458.07" x2="462.95" y2="458.07" stroke="#1a1a1a" stroke-width="1"/>
<rect x="458.6" y="461.18" width="5.5" height="28.32" fill="#2d4a82" stroke="#1c3565" stroke-width="0.45"/>
<line x1="474.95" y1="465.06" x2="474.95" y2="467.97" stroke="#1a1a1a" stroke-width="0.8"/>
<line x1="473.35" y1="465.06" x2="476.55" y2="465.06" stroke="#1a1a1a" stroke-width="1"/>
<rect x="472.2" y="468.17" width="5.5" height="21.33" fill="#a6002a" stroke="#80001f" stroke-width="0.45"/>
<line x1="483.35" y1="426.94" x2="483.35" y2="439.3" stroke="#1a1a1a" stroke-width="0.8"/>
<line x1="481.75" y1="426.94" x2="484.95" y2="426.94" stroke="#1a1a1a" stroke-width="1"/>
<rect x="480.6" y="439.5" width="5.5" height="50" fill="#2d4a82" stroke="#1c3565" stroke-width="0.45"/>
<line x1="496.85" y1="422.86" x2="496.85" y2="434.21" stroke="#1a1a1a" stroke-width="0.8"/>
<line x1="495.25" y1="422.86" x2="498.45" y2="422.86" stroke="#1a1a1a" stroke-width="1"/>
<rect x="494.1" y="434.41" width="5.5" height="55.09" fill="#a6002a" stroke="#80001f" stroke-width="0.45"/>
<line x1="505.15" y1="422.86" x2="505.15" y2="433.77" stroke="#1a1a1a" stroke-width="0.8"/>
<line x1="503.55" y1="422.86" x2="506.75" y2="422.86" stroke="#1a1a1a" stroke-width="1"/>
<rect x="502.4" y="433.97" width="5.5" height="55.53" fill="#2d4a82" stroke="#1c3565" stroke-width="0.45"/>
<rect x="409.4" y="415" width="5.6" height="2.2" fill="#a6002a"/>
<rect x="409.4" y="420.8" width="5.6" height="2.2" fill="#2d4a82"/>
<text x="416.3" y="417.5" font-size="5" text-anchor="start" fill="#3c3c3c" stroke="none">WT</text>
<text x="416.3" y="423.3" font-size="5" text-anchor="start" fill="#3c3c3c"><tspan font-style="italic">Ptpn11</tspan><tspan font-size="2.9" dy="-1.35">T468M/+</tspan></text>
<polyline points="452.3,447.8 452.3,445.2 461.7,445.2 461.7,447.8" fill="none" stroke="#1a1a1a" stroke-width="0.8"/>
<text x="457" y="442.4" font-size="5.2" text-anchor="middle" fill="#222" stroke="#222" stroke-width="0.14">#</text>
<polyline points="474.7,418.4 474.7,415.8 483.5,415.8 483.5,418.4" fill="none" stroke="#1a1a1a" stroke-width="0.8"/>
<text x="479.1" y="413.3" font-size="5.2" text-anchor="middle" fill="#222" stroke="#222" stroke-width="0.14">#</text>
<text x="461.3" y="455.8" font-size="5.2" text-anchor="middle" fill="#222" stroke="#222" stroke-width="0.14">$$</text>
<text x="483.2" y="424.7" font-size="5.2" text-anchor="middle" fill="#222" stroke="#222" stroke-width="0.14">$$$</text>
<text x="496.8" y="423" font-size="5.2" text-anchor="middle" fill="#222" stroke="#222" stroke-width="0.14">***</text>
<text x="505.2" y="419.1" font-size="5.2" text-anchor="middle" fill="#222" stroke="#222" stroke-width="0.14">$$$</text>
<text x="475" y="464.5" font-size="5.2" text-anchor="middle" fill="#222" stroke="#222" stroke-width="0.14">*</text>
<text x="413" y="498.2" font-size="6.2" text-anchor="middle" fill="#1e1e1e" stroke="#1e1e1e" stroke-width="0.14">Resting</text>
<text x="432.8" y="498.2" font-size="6.2" text-anchor="middle" fill="#1e1e1e" stroke="#1e1e1e" stroke-width="0.14">1 min</text>
<text x="457" y="498.2" font-size="6.2" text-anchor="middle" fill="#1e1e1e" stroke="#1e1e1e" stroke-width="0.14">3 min</text>
<text x="478.6" y="498.2" font-size="6.2" text-anchor="middle" fill="#1e1e1e" stroke="#1e1e1e" stroke-width="0.14">5 min</text>
<text x="500.8" y="498.2" font-size="6.2" text-anchor="middle" fill="#1e1e1e" stroke="#1e1e1e" stroke-width="0.14">15 min</text>
<text x="377.2" y="451.5" font-size="8.4" text-anchor="middle" fill="#2a2a2a" transform="rotate(-90 377.2 451.5)" stroke="none" textLength="70" lengthAdjust="spacingAndGlyphs">Activated α IIbβ3 (MFI)</text>
<line x1="225.5" y1="517.3" x2="225.5" y2="594.12" stroke="#1a1a1a" stroke-width="1.25"/>
<line x1="224.88" y1="593.5" x2="329.9" y2="593.5" stroke="#1a1a1a" stroke-width="1.25"/>
<line x1="222.4" y1="593" x2="225.5" y2="593" stroke="#1a1a1a" stroke-width="1"/>
<text x="219" y="595.27" font-size="6.3" text-anchor="end" fill="#1e1e1e" stroke="#1e1e1e" stroke-width="0.07">0</text>
<line x1="222.4" y1="578.5" x2="225.5" y2="578.5" stroke="#1a1a1a" stroke-width="1"/>
<text x="219" y="580.77" font-size="6.3" text-anchor="end" fill="#1e1e1e" stroke="#1e1e1e" stroke-width="0.07">5</text>
<line x1="222.4" y1="564" x2="225.5" y2="564" stroke="#1a1a1a" stroke-width="1"/>
<text x="219" y="566.27" font-size="6.3" text-anchor="end" fill="#1e1e1e" stroke="#1e1e1e" stroke-width="0.07">10</text>
<line x1="222.4" y1="549.5" x2="225.5" y2="549.5" stroke="#1a1a1a" stroke-width="1"/>
<text x="219" y="551.77" font-size="6.3" text-anchor="end" fill="#1e1e1e" stroke="#1e1e1e" stroke-width="0.07">15</text>
<line x1="222.4" y1="535" x2="225.5" y2="535" stroke="#1a1a1a" stroke-width="1"/>
<text x="219" y="537.27" font-size="6.3" text-anchor="end" fill="#1e1e1e" stroke="#1e1e1e" stroke-width="0.07">20</text>
<line x1="222.4" y1="520.5" x2="225.5" y2="520.5" stroke="#1a1a1a" stroke-width="1"/>
<text x="219" y="522.77" font-size="6.3" text-anchor="end" fill="#1e1e1e" stroke="#1e1e1e" stroke-width="0.07">25</text>
<line x1="233.85" y1="573.86" x2="233.85" y2="575.6" stroke="#1a1a1a" stroke-width="0.8"/>
<line x1="232.25" y1="573.86" x2="235.45" y2="573.86" stroke="#1a1a1a" stroke-width="1"/>
<rect x="229.7" y="575.8" width="8.3" height="17.2" fill="#a6002a" stroke="#80001f" stroke-width="0.45"/>
<line x1="242.95" y1="566.03" x2="242.95" y2="568.06" stroke="#1a1a1a" stroke-width="0.8"/>
<line x1="241.35" y1="566.03" x2="244.55" y2="566.03" stroke="#1a1a1a" stroke-width="1"/>
<rect x="238.8" y="568.26" width="8.3" height="24.74" fill="#2d4a82" stroke="#1c3565" stroke-width="0.45"/>
<line x1="260.05" y1="562.84" x2="260.05" y2="565.45" stroke="#1a1a1a" stroke-width="0.8"/>
<line x1="258.45" y1="562.84" x2="261.65" y2="562.84" stroke="#1a1a1a" stroke-width="1"/>
<rect x="255.9" y="565.65" width="8.3" height="27.35" fill="#a6002a" stroke="#80001f" stroke-width="0.45"/>
<line x1="269.15" y1="556.17" x2="269.15" y2="558.2" stroke="#1a1a1a" stroke-width="0.8"/>
<line x1="267.55" y1="556.17" x2="270.75" y2="556.17" stroke="#1a1a1a" stroke-width="1"/>
<rect x="265" y="558.4" width="8.3" height="34.6" fill="#2d4a82" stroke="#1c3565" stroke-width="0.45"/>
<line x1="286.15" y1="556.17" x2="286.15" y2="561.1" stroke="#1a1a1a" stroke-width="0.8"/>
<line x1="284.55" y1="556.17" x2="287.75" y2="556.17" stroke="#1a1a1a" stroke-width="1"/>
<rect x="282" y="561.3" width="8.3" height="31.7" fill="#a6002a" stroke="#80001f" stroke-width="0.45"/>
<line x1="295.25" y1="536.45" x2="295.25" y2="544.86" stroke="#1a1a1a" stroke-width="0.8"/>
<line x1="293.65" y1="536.45" x2="296.85" y2="536.45" stroke="#1a1a1a" stroke-width="1"/>
<rect x="291.1" y="545.06" width="8.3" height="47.94" fill="#2d4a82" stroke="#1c3565" stroke-width="0.45"/>
<line x1="312.45" y1="554.14" x2="312.45" y2="558.49" stroke="#1a1a1a" stroke-width="0.8"/>
<line x1="310.85" y1="554.14" x2="314.05" y2="554.14" stroke="#1a1a1a" stroke-width="1"/>
<rect x="308.3" y="558.69" width="8.3" height="34.31" fill="#a6002a" stroke="#80001f" stroke-width="0.45"/>
<line x1="321.55" y1="549.5" x2="321.55" y2="552.4" stroke="#1a1a1a" stroke-width="0.8"/>
<line x1="319.95" y1="549.5" x2="323.15" y2="549.5" stroke="#1a1a1a" stroke-width="1"/>
<rect x="317.4" y="552.6" width="8.3" height="40.4" fill="#2d4a82" stroke="#1c3565" stroke-width="0.45"/>
<rect x="232.3" y="518" width="5.4" height="2.3" fill="#a6002a"/>
<rect x="232.3" y="523.8" width="5.4" height="2.3" fill="#2d4a82"/>
<text x="239" y="520.6" font-size="5" text-anchor="start" fill="#3c3c3c" stroke="none">WT</text>
<text x="239" y="526.4" font-size="5" text-anchor="start" fill="#3c3c3c"><tspan font-style="italic">Ptpn11</tspan><tspan font-size="2.9" dy="-1.35">T468M/+</tspan></text>
<text x="238.5" y="602" font-size="6.2" text-anchor="middle" fill="#1e1e1e" stroke="#1e1e1e" stroke-width="0.14">Resting</text>
<text x="264.6" y="602" font-size="6.2" text-anchor="middle" fill="#1e1e1e" stroke="#1e1e1e" stroke-width="0.14">1 min</text>
<text x="290.7" y="602" font-size="6.2" text-anchor="middle" fill="#1e1e1e" stroke="#1e1e1e" stroke-width="0.14">3 min</text>
<text x="316.9" y="602" font-size="6.2" text-anchor="middle" fill="#1e1e1e" stroke="#1e1e1e" stroke-width="0.14">6 min</text>
<text x="286.2" y="556.7" font-size="5.2" text-anchor="middle" fill="#222" stroke="#222" stroke-width="0.14">*</text>
<text x="295.3" y="534.5" font-size="5.2" text-anchor="middle" fill="#222" stroke="#222" stroke-width="0.14">$$</text>
<polyline points="284.5,526.8 284.5,524.2 295.6,524.2 295.6,526.8" fill="none" stroke="#1a1a1a" stroke-width="0.8"/>
<text x="290.05" y="521.6" font-size="5.2" text-anchor="middle" fill="#222" stroke="#222" stroke-width="0.14">#</text>
<text x="312.4" y="553.6" font-size="5.2" text-anchor="middle" fill="#222" stroke="#222" stroke-width="0.14">*</text>
<text x="321.4" y="546.6" font-size="5.2" text-anchor="middle" fill="#222" stroke="#222" stroke-width="0.14">$</text>
<text x="205.3" y="554.7" font-size="7.3" text-anchor="middle" fill="#1e1e1e" transform="rotate(-90 205.3 554.7)" textLength="43.8" lengthAdjust="spacingAndGlyphs" stroke="#1e1e1e" stroke-width="0.14">pSyk/Syk (a.u.)</text>
<line x1="374.5" y1="517.3" x2="374.5" y2="594.12" stroke="#1a1a1a" stroke-width="1.25"/>
<line x1="373.88" y1="593.5" x2="478.7" y2="593.5" stroke="#1a1a1a" stroke-width="1.25"/>
<line x1="371.2" y1="593" x2="374.5" y2="593" stroke="#1a1a1a" stroke-width="1"/>
<text x="367.8" y="595.27" font-size="6.3" text-anchor="end" fill="#1e1e1e" stroke="#1e1e1e" stroke-width="0.07">0</text>
<line x1="371.2" y1="578.5" x2="374.5" y2="578.5" stroke="#1a1a1a" stroke-width="1"/>
<text x="367.8" y="580.77" font-size="6.3" text-anchor="end" fill="#1e1e1e" stroke="#1e1e1e" stroke-width="0.07">2</text>
<line x1="371.2" y1="564" x2="374.5" y2="564" stroke="#1a1a1a" stroke-width="1"/>
<text x="367.8" y="566.27" font-size="6.3" text-anchor="end" fill="#1e1e1e" stroke="#1e1e1e" stroke-width="0.07">4</text>
<line x1="371.2" y1="549.5" x2="374.5" y2="549.5" stroke="#1a1a1a" stroke-width="1"/>
<text x="367.8" y="551.77" font-size="6.3" text-anchor="end" fill="#1e1e1e" stroke="#1e1e1e" stroke-width="0.07">6</text>
<line x1="371.2" y1="535" x2="374.5" y2="535" stroke="#1a1a1a" stroke-width="1"/>
<text x="367.8" y="537.27" font-size="6.3" text-anchor="end" fill="#1e1e1e" stroke="#1e1e1e" stroke-width="0.07">8</text>
<line x1="371.2" y1="520.5" x2="374.5" y2="520.5" stroke="#1a1a1a" stroke-width="1"/>
<text x="367.8" y="522.77" font-size="6.3" text-anchor="end" fill="#1e1e1e" stroke="#1e1e1e" stroke-width="0.07">10</text>
<line x1="382.65" y1="578.5" x2="382.65" y2="580.1" stroke="#1a1a1a" stroke-width="0.8"/>
<line x1="381.05" y1="578.5" x2="384.25" y2="578.5" stroke="#1a1a1a" stroke-width="1"/>
<rect x="378.5" y="580.3" width="8.3" height="12.7" fill="#a6002a" stroke="#80001f" stroke-width="0.45"/>
<line x1="391.75" y1="574.51" x2="391.75" y2="577.05" stroke="#1a1a1a" stroke-width="0.8"/>
<line x1="390.15" y1="574.51" x2="393.35" y2="574.51" stroke="#1a1a1a" stroke-width="1"/>
<rect x="387.6" y="577.25" width="8.3" height="15.75" fill="#2d4a82" stroke="#1c3565" stroke-width="0.45"/>
<line x1="408.85" y1="573.42" x2="408.85" y2="576.33" stroke="#1a1a1a" stroke-width="0.8"/>
<line x1="407.25" y1="573.42" x2="410.45" y2="573.42" stroke="#1a1a1a" stroke-width="1"/>
<rect x="404.7" y="576.53" width="8.3" height="16.47" fill="#a6002a" stroke="#80001f" stroke-width="0.45"/>
<line x1="417.95" y1="563.64" x2="417.95" y2="567.26" stroke="#1a1a1a" stroke-width="0.8"/>
<line x1="416.35" y1="563.64" x2="419.55" y2="563.64" stroke="#1a1a1a" stroke-width="1"/>
<rect x="413.8" y="567.46" width="8.3" height="25.54" fill="#2d4a82" stroke="#1c3565" stroke-width="0.45"/>
<line x1="434.95" y1="552.4" x2="434.95" y2="556.75" stroke="#1a1a1a" stroke-width="0.8"/>
<line x1="433.35" y1="552.4" x2="436.55" y2="552.4" stroke="#1a1a1a" stroke-width="1"/>
<rect x="430.8" y="556.95" width="8.3" height="36.05" fill="#a6002a" stroke="#80001f" stroke-width="0.45"/>
<line x1="444.05" y1="537.9" x2="444.05" y2="542.61" stroke="#1a1a1a" stroke-width="0.8"/>
<line x1="442.45" y1="537.9" x2="445.65" y2="537.9" stroke="#1a1a1a" stroke-width="1"/>
<rect x="439.9" y="542.81" width="8.3" height="50.19" fill="#2d4a82" stroke="#1c3565" stroke-width="0.45"/>
<line x1="461.25" y1="562.55" x2="461.25" y2="565.81" stroke="#1a1a1a" stroke-width="0.8"/>
<line x1="459.65" y1="562.55" x2="462.85" y2="562.55" stroke="#1a1a1a" stroke-width="1"/>
<rect x="457.1" y="566.01" width="8.3" height="26.99" fill="#a6002a" stroke="#80001f" stroke-width="0.45"/>
<line x1="470.35" y1="554.21" x2="470.35" y2="557.84" stroke="#1a1a1a" stroke-width="0.8"/>
<line x1="468.75" y1="554.21" x2="471.95" y2="554.21" stroke="#1a1a1a" stroke-width="1"/>
<rect x="466.2" y="558.04" width="8.3" height="34.96" fill="#2d4a82" stroke="#1c3565" stroke-width="0.45"/>
<rect x="381.1" y="518" width="5.4" height="2.3" fill="#a6002a"/>
<rect x="381.1" y="523.8" width="5.4" height="2.3" fill="#2d4a82"/>
<text x="387.8" y="520.6" font-size="5" text-anchor="start" fill="#3c3c3c" stroke="none">WT</text>
<text x="387.8" y="526.4" font-size="5" text-anchor="start" fill="#3c3c3c"><tspan font-style="italic">Ptpn11</tspan><tspan font-size="2.9" dy="-1.35">T468M/+</tspan></text>
<text x="387.3" y="602" font-size="6.2" text-anchor="middle" fill="#1e1e1e" stroke="#1e1e1e" stroke-width="0.14">Resting</text>
<text x="413.4" y="602" font-size="6.2" text-anchor="middle" fill="#1e1e1e" stroke="#1e1e1e" stroke-width="0.14">1 min</text>
<text x="439.5" y="602" font-size="6.2" text-anchor="middle" fill="#1e1e1e" stroke="#1e1e1e" stroke-width="0.14">3 min</text>
<text x="465.7" y="602" font-size="6.2" text-anchor="middle" fill="#1e1e1e" stroke="#1e1e1e" stroke-width="0.14">6 min</text>
<text x="435" y="552.6" font-size="5.2" text-anchor="middle" fill="#222" stroke="#222" stroke-width="0.14">*</text>
<text x="444.1" y="534.9" font-size="5.2" text-anchor="middle" fill="#222" stroke="#222" stroke-width="0.14">$$</text>
<polyline points="433.3,527.5 433.3,524.9 444.4,524.9 444.4,527.5" fill="none" stroke="#1a1a1a" stroke-width="0.8"/>
<text x="438.85" y="522.3" font-size="5.2" text-anchor="middle" fill="#222" stroke="#222" stroke-width="0.14">#</text>
<text x="354.4" y="553.3" font-size="7.3" text-anchor="middle" fill="#1e1e1e" transform="rotate(-90 354.4 553.3)" textLength="45.5" lengthAdjust="spacingAndGlyphs" stroke="#1e1e1e" stroke-width="0.14">pLAT/LAT (a.u.)</text>
<line x1="225.5" y1="627.1" x2="225.5" y2="703.12" stroke="#1a1a1a" stroke-width="1.25"/>
<line x1="224.88" y1="702.5" x2="329.9" y2="702.5" stroke="#1a1a1a" stroke-width="1.25"/>
<line x1="222.4" y1="702.8" x2="225.5" y2="702.8" stroke="#1a1a1a" stroke-width="1"/>
<text x="219" y="705.07" font-size="6.3" text-anchor="end" fill="#1e1e1e" stroke="#1e1e1e" stroke-width="0.07">0</text>
<line x1="222.4" y1="688.3" x2="225.5" y2="688.3" stroke="#1a1a1a" stroke-width="1"/>
<text x="219" y="690.57" font-size="6.3" text-anchor="end" fill="#1e1e1e" stroke="#1e1e1e" stroke-width="0.07">10</text>
<line x1="222.4" y1="673.8" x2="225.5" y2="673.8" stroke="#1a1a1a" stroke-width="1"/>
<text x="219" y="676.07" font-size="6.3" text-anchor="end" fill="#1e1e1e" stroke="#1e1e1e" stroke-width="0.07">20</text>
<line x1="222.4" y1="659.3" x2="225.5" y2="659.3" stroke="#1a1a1a" stroke-width="1"/>
<text x="219" y="661.57" font-size="6.3" text-anchor="end" fill="#1e1e1e" stroke="#1e1e1e" stroke-width="0.07">30</text>
<line x1="222.4" y1="644.8" x2="225.5" y2="644.8" stroke="#1a1a1a" stroke-width="1"/>
<text x="219" y="647.07" font-size="6.3" text-anchor="end" fill="#1e1e1e" stroke="#1e1e1e" stroke-width="0.07">40</text>
<line x1="222.4" y1="630.3" x2="225.5" y2="630.3" stroke="#1a1a1a" stroke-width="1"/>
<text x="219" y="632.57" font-size="6.3" text-anchor="end" fill="#1e1e1e" stroke="#1e1e1e" stroke-width="0.07">50</text>
<line x1="233.85" y1="695.84" x2="233.85" y2="697.72" stroke="#1a1a1a" stroke-width="0.8"/>
<line x1="232.25" y1="695.84" x2="235.45" y2="695.84" stroke="#1a1a1a" stroke-width="1"/>
<rect x="229.7" y="697.92" width="8.3" height="4.88" fill="#a6002a" stroke="#80001f" stroke-width="0.45"/>
<line x1="242.95" y1="696.56" x2="242.95" y2="698.01" stroke="#1a1a1a" stroke-width="0.8"/>
<line x1="241.35" y1="696.56" x2="244.55" y2="696.56" stroke="#1a1a1a" stroke-width="1"/>
<rect x="238.8" y="698.22" width="8.3" height="4.58" fill="#2d4a82" stroke="#1c3565" stroke-width="0.45"/>
<line x1="260.05" y1="695.55" x2="260.05" y2="696.56" stroke="#1a1a1a" stroke-width="0.8"/>
<line x1="258.45" y1="695.55" x2="261.65" y2="695.55" stroke="#1a1a1a" stroke-width="1"/>
<rect x="255.9" y="696.76" width="8.3" height="6.04" fill="#a6002a" stroke="#80001f" stroke-width="0.45"/>
<line x1="269.15" y1="692.79" x2="269.15" y2="693.81" stroke="#1a1a1a" stroke-width="0.8"/>
<line x1="267.55" y1="692.79" x2="270.75" y2="692.79" stroke="#1a1a1a" stroke-width="1"/>
<rect x="265" y="694.01" width="8.3" height="8.79" fill="#2d4a82" stroke="#1c3565" stroke-width="0.45"/>
<line x1="286.15" y1="665.39" x2="286.15" y2="670.61" stroke="#1a1a1a" stroke-width="0.8"/>
<line x1="284.55" y1="665.39" x2="287.75" y2="665.39" stroke="#1a1a1a" stroke-width="1"/>
<rect x="282" y="670.81" width="8.3" height="31.99" fill="#a6002a" stroke="#80001f" stroke-width="0.45"/>
<line x1="295.25" y1="647.84" x2="295.25" y2="652.19" stroke="#1a1a1a" stroke-width="0.8"/>
<line x1="293.65" y1="647.84" x2="296.85" y2="647.84" stroke="#1a1a1a" stroke-width="1"/>
<rect x="291.1" y="652.39" width="8.3" height="50.41" fill="#2d4a82" stroke="#1c3565" stroke-width="0.45"/>
<line x1="312.45" y1="655.67" x2="312.45" y2="659.3" stroke="#1a1a1a" stroke-width="0.8"/>
<line x1="310.85" y1="655.67" x2="314.05" y2="655.67" stroke="#1a1a1a" stroke-width="1"/>
<rect x="308.3" y="659.5" width="8.3" height="43.3" fill="#a6002a" stroke="#80001f" stroke-width="0.45"/>
<line x1="321.55" y1="638.27" x2="321.55" y2="647.55" stroke="#1a1a1a" stroke-width="0.8"/>
<line x1="319.95" y1="638.27" x2="323.15" y2="638.27" stroke="#1a1a1a" stroke-width="1"/>
<rect x="317.4" y="647.75" width="8.3" height="55.05" fill="#2d4a82" stroke="#1c3565" stroke-width="0.45"/>
<rect x="232.3" y="628.5" width="5.4" height="2.3" fill="#a6002a"/>
<rect x="232.3" y="634.3" width="5.4" height="2.3" fill="#2d4a82"/>
<text x="239" y="631.1" font-size="5" text-anchor="start" fill="#3c3c3c" stroke="none">WT</text>
<text x="239" y="636.9" font-size="5" text-anchor="start" fill="#3c3c3c"><tspan font-style="italic">Ptpn11</tspan><tspan font-size="2.9" dy="-1.35">T468M/+</tspan></text>
<text x="238.5" y="711.8" font-size="6.2" text-anchor="middle" fill="#1e1e1e" stroke="#1e1e1e" stroke-width="0.14">Resting</text>
<text x="264.6" y="711.8" font-size="6.2" text-anchor="middle" fill="#1e1e1e" stroke="#1e1e1e" stroke-width="0.14">1 min</text>
<text x="290.7" y="711.8" font-size="6.2" text-anchor="middle" fill="#1e1e1e" stroke="#1e1e1e" stroke-width="0.14">3 min</text>
<text x="316.9" y="711.8" font-size="6.2" text-anchor="middle" fill="#1e1e1e" stroke="#1e1e1e" stroke-width="0.14">6 min</text>
<text x="286.2" y="665" font-size="5.2" text-anchor="middle" fill="#222" stroke="#222" stroke-width="0.14">***</text>
<text x="295.3" y="645.2" font-size="5.2" text-anchor="middle" fill="#222" stroke="#222" stroke-width="0.14">$$$</text>
<polyline points="284.5,636.6 284.5,634 295.6,634 295.6,636.6" fill="none" stroke="#1a1a1a" stroke-width="0.8"/>
<text x="290.05" y="631.4" font-size="5.2" text-anchor="middle" fill="#222" stroke="#222" stroke-width="0.14">#</text>
<text x="312.4" y="655" font-size="5.2" text-anchor="middle" fill="#222" stroke="#222" stroke-width="0.14">***</text>
<text x="321.4" y="635.7" font-size="5.2" text-anchor="middle" fill="#222" stroke="#222" stroke-width="0.14">$$$</text>
<text x="205.6" y="665" font-size="7.3" text-anchor="middle" fill="#1e1e1e" transform="rotate(-90 205.6 665)" textLength="44.4" lengthAdjust="spacingAndGlyphs" stroke="#1e1e1e" stroke-width="0.14">pAKT/AKT (a.u.)</text>
<line x1="374.5" y1="627.3" x2="374.5" y2="704.12" stroke="#1a1a1a" stroke-width="1.25"/>
<line x1="373.88" y1="703.5" x2="479.2" y2="703.5" stroke="#1a1a1a" stroke-width="1.25"/>
<line x1="371.7" y1="703" x2="374.5" y2="703" stroke="#1a1a1a" stroke-width="1"/>
<text x="368.3" y="705.27" font-size="6.3" text-anchor="end" fill="#1e1e1e" stroke="#1e1e1e" stroke-width="0.07">0</text>
<line x1="371.7" y1="688.5" x2="374.5" y2="688.5" stroke="#1a1a1a" stroke-width="1"/>
<text x="368.3" y="690.77" font-size="6.3" text-anchor="end" fill="#1e1e1e" stroke="#1e1e1e" stroke-width="0.07">1</text>
<line x1="371.7" y1="674" x2="374.5" y2="674" stroke="#1a1a1a" stroke-width="1"/>
<text x="368.3" y="676.27" font-size="6.3" text-anchor="end" fill="#1e1e1e" stroke="#1e1e1e" stroke-width="0.07">2</text>
<line x1="371.7" y1="659.5" x2="374.5" y2="659.5" stroke="#1a1a1a" stroke-width="1"/>
<text x="368.3" y="661.77" font-size="6.3" text-anchor="end" fill="#1e1e1e" stroke="#1e1e1e" stroke-width="0.07">3</text>
<line x1="371.7" y1="645" x2="374.5" y2="645" stroke="#1a1a1a" stroke-width="1"/>
<text x="368.3" y="647.27" font-size="6.3" text-anchor="end" fill="#1e1e1e" stroke="#1e1e1e" stroke-width="0.07">4</text>
<line x1="371.7" y1="630.5" x2="374.5" y2="630.5" stroke="#1a1a1a" stroke-width="1"/>
<text x="368.3" y="632.77" font-size="6.3" text-anchor="end" fill="#1e1e1e" stroke="#1e1e1e" stroke-width="0.07">5</text>
<line x1="383.15" y1="679.08" x2="383.15" y2="682.99" stroke="#1a1a1a" stroke-width="0.8"/>
<line x1="381.55" y1="679.08" x2="384.75" y2="679.08" stroke="#1a1a1a" stroke-width="1"/>
<rect x="379" y="683.19" width="8.3" height="19.81" fill="#a6002a" stroke="#80001f" stroke-width="0.45"/>
<line x1="392.25" y1="679.8" x2="392.25" y2="682.99" stroke="#1a1a1a" stroke-width="0.8"/>
<line x1="390.65" y1="679.8" x2="393.85" y2="679.8" stroke="#1a1a1a" stroke-width="1"/>
<rect x="388.1" y="683.19" width="8.3" height="19.81" fill="#2d4a82" stroke="#1c3565" stroke-width="0.45"/>
<line x1="409.35" y1="675.16" x2="409.35" y2="678.35" stroke="#1a1a1a" stroke-width="0.8"/>
<line x1="407.75" y1="675.16" x2="410.95" y2="675.16" stroke="#1a1a1a" stroke-width="1"/>
<rect x="405.2" y="678.55" width="8.3" height="24.45" fill="#a6002a" stroke="#80001f" stroke-width="0.45"/>
<line x1="418.45" y1="658.05" x2="418.45" y2="663.85" stroke="#1a1a1a" stroke-width="0.8"/>
<line x1="416.85" y1="658.05" x2="420.05" y2="658.05" stroke="#1a1a1a" stroke-width="1"/>
<rect x="414.3" y="664.05" width="8.3" height="38.95" fill="#2d4a82" stroke="#1c3565" stroke-width="0.45"/>
<line x1="435.45" y1="660.95" x2="435.45" y2="664.87" stroke="#1a1a1a" stroke-width="0.8"/>
<line x1="433.85" y1="660.95" x2="437.05" y2="660.95" stroke="#1a1a1a" stroke-width="1"/>
<rect x="431.3" y="665.07" width="8.3" height="37.93" fill="#a6002a" stroke="#80001f" stroke-width="0.45"/>
<line x1="444.55" y1="637.75" x2="444.55" y2="644.27" stroke="#1a1a1a" stroke-width="0.8"/>
<line x1="442.95" y1="637.75" x2="446.15" y2="637.75" stroke="#1a1a1a" stroke-width="1"/>
<rect x="440.4" y="644.48" width="8.3" height="58.53" fill="#2d4a82" stroke="#1c3565" stroke-width="0.45"/>
<line x1="461.75" y1="667.48" x2="461.75" y2="671.1" stroke="#1a1a1a" stroke-width="0.8"/>
<line x1="460.15" y1="667.48" x2="463.35" y2="667.48" stroke="#1a1a1a" stroke-width="1"/>
<rect x="457.6" y="671.3" width="8.3" height="31.7" fill="#a6002a" stroke="#80001f" stroke-width="0.45"/>
<line x1="470.85" y1="641.38" x2="470.85" y2="650.8" stroke="#1a1a1a" stroke-width="0.8"/>
<line x1="469.25" y1="641.38" x2="472.45" y2="641.38" stroke="#1a1a1a" stroke-width="1"/>
<rect x="466.7" y="651" width="8.3" height="52" fill="#2d4a82" stroke="#1c3565" stroke-width="0.45"/>
<rect x="381.6" y="628.5" width="5.4" height="2.3" fill="#a6002a"/>
<rect x="381.6" y="634.3" width="5.4" height="2.3" fill="#2d4a82"/>
<text x="388.3" y="631.1" font-size="5" text-anchor="start" fill="#3c3c3c" stroke="none">WT</text>
<text x="388.3" y="636.9" font-size="5" text-anchor="start" fill="#3c3c3c"><tspan font-style="italic">Ptpn11</tspan><tspan font-size="2.9" dy="-1.35">T468M/+</tspan></text>
<text x="387.8" y="712" font-size="6.2" text-anchor="middle" fill="#1e1e1e" stroke="#1e1e1e" stroke-width="0.14">Resting</text>
<text x="413.9" y="712" font-size="6.2" text-anchor="middle" fill="#1e1e1e" stroke="#1e1e1e" stroke-width="0.14">1 min</text>
<text x="440" y="712" font-size="6.2" text-anchor="middle" fill="#1e1e1e" stroke="#1e1e1e" stroke-width="0.14">3 min</text>
<text x="466.2" y="712" font-size="6.2" text-anchor="middle" fill="#1e1e1e" stroke="#1e1e1e" stroke-width="0.14">6 min</text>
<text x="418.5" y="654.9" font-size="5.2" text-anchor="middle" fill="#222" stroke="#222" stroke-width="0.14">$$</text>
<text x="435.5" y="661.2" font-size="5.2" text-anchor="middle" fill="#222" stroke="#222" stroke-width="0.14">*</text>
<text x="444.6" y="634.2" font-size="5.2" text-anchor="middle" fill="#222" stroke="#222" stroke-width="0.14">$$$</text>
<polyline points="433.8,626.9 433.8,624.3 444.9,624.3 444.9,626.9" fill="none" stroke="#1a1a1a" stroke-width="0.8"/>
<text x="439.35" y="621.7" font-size="5.2" text-anchor="middle" fill="#222" stroke="#222" stroke-width="0.14">#</text>
<text x="470.7" y="639" font-size="5.2" text-anchor="middle" fill="#222" stroke="#222" stroke-width="0.14">$$$</text>
<polyline points="460.1,626.9 460.1,624.3 471.1,624.3 471.1,626.9" fill="none" stroke="#1a1a1a" stroke-width="0.8"/>
<text x="465.6" y="621.7" font-size="5.2" text-anchor="middle" fill="#222" stroke="#222" stroke-width="0.14">#</text>
<text x="357.2" y="665" font-size="7.3" text-anchor="middle" fill="#1e1e1e" transform="rotate(-90 357.2 665)" textLength="58.9" lengthAdjust="spacingAndGlyphs" stroke="#1e1e1e" stroke-width="0.14">pPLCγ2/PLCγ2 (a.u.)</text>
<defs><filter id="bl" x="-30%" y="-80%" width="160%" height="260%"><feGaussianBlur stdDeviation="0.75 0.5"/></filter><filter id="bl2" x="-30%" y="-30%" width="160%" height="160%"><feGaussianBlur stdDeviation="1.2"/></filter></defs>
<rect x="68.3" y="560.8" width="113.2" height="13.8" fill="rgb(246,246,246)" stroke="#858585" stroke-width="1.15"/>
<g filter="url(#bl)">
<rect x="69.78" y="566.97" width="9.64" height="1.86" rx="1.6" fill="rgb(221,221,221)"/>
<rect x="84.07" y="566.81" width="9.96" height="2.17" rx="1.6" fill="rgb(161,161,161)"/>
<rect x="98.46" y="566.76" width="10.08" height="2.29" rx="1.6" fill="rgb(139,139,139)"/>
<rect x="112.92" y="566.77" width="10.06" height="2.26" rx="1.6" fill="rgb(143,143,143)"/>
<rect x="127.5" y="566.9" width="9.79" height="2.01" rx="1.6" fill="rgb(192,192,192)"/>
<rect x="141.81" y="566.76" width="10.08" height="2.29" rx="1.6" fill="rgb(139,139,139)"/>
<rect x="156.05" y="566.55" width="10.5" height="2.7" rx="1.6" fill="rgb(61,61,61)"/>
<rect x="170.44" y="566.49" width="10.62" height="2.81" rx="1.6" fill="rgb(39,39,39)"/>
</g>
<text x="63.4" y="570.4" font-size="7" text-anchor="end" fill="#1a1a1a" textLength="55.6" lengthAdjust="spacingAndGlyphs" stroke="#1a1a1a" stroke-width="0.14">pSyk Tyr 525/526</text>
<rect x="68.3" y="577.6" width="113.2" height="13.7" fill="rgb(244,244,244)" stroke="#858585" stroke-width="1.15"/>
<g filter="url(#bl)">
<rect x="69.44" y="583.2" width="10.32" height="3.3" rx="1.6" fill="rgb(94,94,94)"/>
<rect x="83.9" y="583.22" width="10.3" height="3.27" rx="1.6" fill="rgb(99,99,99)"/>
<rect x="98.36" y="583.23" width="10.27" height="3.24" rx="1.6" fill="rgb(103,103,103)"/>
<rect x="112.75" y="583.16" width="10.39" height="3.39" rx="1.6" fill="rgb(81,81,81)"/>
<rect x="127.17" y="583.11" width="10.46" height="3.48" rx="1.6" fill="rgb(68,68,68)"/>
<rect x="141.71" y="583.23" width="10.27" height="3.24" rx="1.6" fill="rgb(103,103,103)"/>
<rect x="156.14" y="583.2" width="10.32" height="3.3" rx="1.6" fill="rgb(94,94,94)"/>
<rect x="170.65" y="583.28" width="10.2" height="3.14" rx="1.6" fill="rgb(117,117,117)"/>
</g>
<text x="63.4" y="587.15" font-size="7" text-anchor="end" fill="#1a1a1a" stroke="#1a1a1a" stroke-width="0.14">Syk</text>
<rect x="68.3" y="594.5" width="113.2" height="14.2" fill="rgb(244,244,244)" stroke="#858585" stroke-width="1.15"/>
<g filter="url(#bl)">
<rect x="69.69" y="601.07" width="9.82" height="2.66" rx="1.6" fill="rgb(188,188,188)"/>
<rect x="69.6" y="596.1" width="10" height="1.0" fill="rgb(200,200,200)"/>
<rect x="83.68" y="600.48" width="10.74" height="3.83" rx="1.6" fill="rgb(17,17,17)"/>
<rect x="84.05" y="596.1" width="10" height="1.0" fill="rgb(200,200,200)"/>
<rect x="98.13" y="600.48" width="10.74" height="3.83" rx="1.6" fill="rgb(17,17,17)"/>
<rect x="98.5" y="596.1" width="10" height="1.0" fill="rgb(200,200,200)"/>
<rect x="112.85" y="600.83" width="10.2" height="3.14" rx="1.6" fill="rgb(117,117,117)"/>
<rect x="112.95" y="596.1" width="10" height="1.0" fill="rgb(200,200,200)"/>
<rect x="127.55" y="601.15" width="9.7" height="2.5" rx="1.6" fill="rgb(210,210,210)"/>
<rect x="141.51" y="600.52" width="10.68" height="3.76" rx="1.6" fill="rgb(28,28,28)"/>
<rect x="141.85" y="596.1" width="10" height="1.0" fill="rgb(200,200,200)"/>
<rect x="155.9" y="599.6" width="10.8" height="5.6" rx="1.6" fill="rgb(6,6,6)"/>
<rect x="156.3" y="596.1" width="10" height="1.0" fill="rgb(200,200,200)"/>
<rect x="170.42" y="600.54" width="10.66" height="3.73" rx="1.6" fill="rgb(32,32,32)"/>
<rect x="170.75" y="596.1" width="10" height="1.0" fill="rgb(200,200,200)"/>
</g>
<text x="63.4" y="604.3" font-size="7" text-anchor="end" fill="#1a1a1a" textLength="41.2" lengthAdjust="spacingAndGlyphs" stroke="#1a1a1a" stroke-width="0.14">pLAT Tyr 191</text>
<rect x="68.3" y="612" width="113.2" height="14.2" fill="rgb(244,244,244)" stroke="#858585" stroke-width="1.15"/>
<g filter="url(#bl)">
<rect x="69.5" y="617.81" width="10.2" height="2.77" rx="1.6" fill="rgb(117,117,117)"/>
<rect x="83.92" y="617.78" width="10.26" height="2.84" rx="1.6" fill="rgb(105,105,105)"/>
<rect x="98.19" y="617.58" width="10.62" height="3.25" rx="1.6" fill="rgb(39,39,39)"/>
<rect x="112.84" y="617.8" width="10.22" height="2.8" rx="1.6" fill="rgb(112,112,112)"/>
<rect x="127.33" y="617.85" width="10.14" height="2.71" rx="1.6" fill="rgb(128,128,128)"/>
<rect x="141.75" y="617.81" width="10.2" height="2.77" rx="1.6" fill="rgb(117,117,117)"/>
<rect x="156.23" y="617.85" width="10.14" height="2.71" rx="1.6" fill="rgb(128,128,128)"/>
<rect x="170.77" y="617.95" width="9.96" height="2.5" rx="1.6" fill="rgb(161,161,161)"/>
</g>
<text x="63.4" y="621.8" font-size="7" text-anchor="end" fill="#1a1a1a" textLength="11.5" lengthAdjust="spacingAndGlyphs" stroke="#1a1a1a" stroke-width="0.14">LAT</text>
<rect x="68.3" y="630.5" width="113.2" height="14.5" fill="rgb(249,249,249)" stroke="#858585" stroke-width="1.15"/>
<g filter="url(#bl)">
<rect x="98.55" y="636.86" width="9.9" height="1.79" rx="1.6" fill="rgb(165,165,165)"/>
<rect x="112.7" y="636.61" width="10.5" height="2.28" rx="1.6" fill="rgb(41,41,41)"/>
<rect x="141.93" y="636.88" width="9.84" height="1.74" rx="1.6" fill="rgb(178,178,178)"/>
<rect x="155.97" y="636.54" width="10.66" height="2.41" rx="1.6" fill="rgb(9,9,9)"/>
<rect x="170.4" y="636.52" width="10.7" height="2.45" rx="1.6" fill="rgb(6,6,6)"/>
</g>
<text x="63.4" y="640.45" font-size="7" text-anchor="end" fill="#1a1a1a" textLength="44.3" lengthAdjust="spacingAndGlyphs" stroke="#1a1a1a" stroke-width="0.14">pAKT Ser 473</text>
<rect x="68.3" y="648.2" width="113.2" height="14.3" fill="rgb(244,244,244)" stroke="#858585" stroke-width="1.15"/>
<g filter="url(#bl)">
<rect x="69.4" y="654.45" width="10.39" height="2.99" rx="1.6" fill="rgb(81,81,81)"/>
<rect x="83.85" y="654.45" width="10.39" height="2.99" rx="1.6" fill="rgb(81,81,81)"/>
<rect x="98.27" y="654.31" width="10.46" height="3.07" rx="1.6" fill="rgb(68,68,68)"/>
<rect x="112.85" y="654.46" width="10.2" height="2.77" rx="1.6" fill="rgb(117,117,117)"/>
<rect x="127.11" y="653.15" width="10.58" height="3.21" rx="1.6" fill="rgb(45,45,45)"/>
<rect x="141.59" y="653.19" width="10.51" height="3.13" rx="1.6" fill="rgb(59,59,59)"/>
<rect x="156.04" y="653.19" width="10.51" height="3.13" rx="1.6" fill="rgb(59,59,59)"/>
<rect x="170.49" y="653.19" width="10.51" height="3.13" rx="1.6" fill="rgb(59,59,59)"/>
</g>
<text x="63.4" y="658.05" font-size="7" text-anchor="end" fill="#1a1a1a" textLength="13" lengthAdjust="spacingAndGlyphs" stroke="#1a1a1a" stroke-width="0.14">AKT</text>
<rect x="68.3" y="665.7" width="113.2" height="14.3" fill="rgb(234,234,234)" stroke="#858585" stroke-width="1.15"/>
<g filter="url(#bl2)">
<rect x="69.1" y="668.2" width="11" height="9.3" fill="rgb(228,228,228)"/>
<rect x="83.55" y="668.2" width="11" height="9.3" fill="rgb(228,228,228)"/>
<rect x="98" y="668.2" width="11" height="9.3" fill="rgb(228,228,228)"/>
<rect x="112.45" y="668.2" width="11" height="9.3" fill="rgb(228,228,228)"/>
<rect x="126.9" y="668.2" width="11" height="9.3" fill="rgb(228,228,228)"/>
<rect x="141.35" y="668.2" width="11" height="9.3" fill="rgb(228,228,228)"/>
<rect x="155.8" y="668.2" width="11" height="9.3" fill="rgb(228,228,228)"/>
<rect x="170.25" y="668.2" width="11" height="9.3" fill="rgb(228,228,228)"/>
</g>
<g filter="url(#bl)">
<rect x="69.4" y="670.5" width="10.39" height="2.89" rx="1.6" fill="rgb(81,81,81)"/>
<rect x="83.95" y="670.61" width="10.2" height="2.68" rx="1.6" fill="rgb(117,117,117)"/>
<rect x="98.27" y="670.47" width="10.46" height="2.97" rx="1.6" fill="rgb(68,68,68)"/>
<rect x="112.88" y="672.24" width="10.14" height="2.62" rx="1.6" fill="rgb(128,128,128)"/>
<rect x="127.3" y="672.21" width="10.2" height="2.68" rx="1.6" fill="rgb(117,117,117)"/>
<rect x="141.53" y="671.47" width="10.63" height="3.15" rx="1.6" fill="rgb(37,37,37)"/>
<rect x="155.98" y="671.47" width="10.63" height="3.15" rx="1.6" fill="rgb(37,37,37)"/>
<rect x="170.38" y="671.42" width="10.74" height="3.27" rx="1.6" fill="rgb(17,17,17)"/>
</g>
<text x="63.4" y="675.55" font-size="7" text-anchor="end" fill="#1a1a1a" textLength="49.3" lengthAdjust="spacingAndGlyphs" stroke="#1a1a1a" stroke-width="0.14">pPLCγ2 Tyr 759</text>
<rect x="68.3" y="683.2" width="113.2" height="13.8" fill="rgb(239,239,239)" stroke="#858585" stroke-width="1.15"/>
<g filter="url(#bl2)">
<rect x="112.45" y="685.7" width="11" height="8.8" fill="rgb(222,222,222)"/>
<rect x="126.9" y="685.7" width="11" height="8.8" fill="rgb(222,222,222)"/>
<rect x="141.35" y="685.7" width="11" height="8.8" fill="rgb(222,222,222)"/>
<rect x="155.8" y="685.7" width="11" height="8.8" fill="rgb(222,222,222)"/>
<rect x="170.25" y="685.7" width="11" height="8.8" fill="rgb(222,222,222)"/>
</g>
<g filter="url(#bl)">
<rect x="69.62" y="689.48" width="9.96" height="1.84" rx="1.6" fill="rgb(161,161,161)"/>
<rect x="84.04" y="689.46" width="10.02" height="1.89" rx="1.6" fill="rgb(150,150,150)"/>
<rect x="98.46" y="689.43" width="10.08" height="1.94" rx="1.6" fill="rgb(139,139,139)"/>
<rect x="112.94" y="689.26" width="10.02" height="1.89" rx="1.6" fill="rgb(150,150,150)"/>
<rect x="127.27" y="688.66" width="10.26" height="2.08" rx="1.6" fill="rgb(105,105,105)"/>
<rect x="141.87" y="689.28" width="9.96" height="1.84" rx="1.6" fill="rgb(161,161,161)"/>
<rect x="156.2" y="688.68" width="10.2" height="2.04" rx="1.6" fill="rgb(117,117,117)"/>
<rect x="170.8" y="688.61" width="9.9" height="1.79" rx="1.6" fill="rgb(172,172,172)"/>
</g>
<text x="63.4" y="692.8" font-size="7" text-anchor="end" fill="#1a1a1a" textLength="19.1" lengthAdjust="spacingAndGlyphs" stroke="#1a1a1a" stroke-width="0.14">PLCγ2</text>
<text x="97.6" y="543" font-size="7.2" text-anchor="middle" fill="#222" stroke="#222" stroke-width="0.14">WT</text>
<line x1="71.9" y1="546.6" x2="123.4" y2="546.6" stroke="#333" stroke-width="1.3"/>
<text x="154" y="543" font-size="7" text-anchor="middle" fill="#1e1e1e"><tspan font-style="italic">Ptpn11</tspan><tspan font-size="4.06" dy="-1.89">T468M/+</tspan></text>
<line x1="128" y1="546.6" x2="179.6" y2="546.6" stroke="#333" stroke-width="1.3"/>
<text x="63.4" y="557.4" font-size="7" text-anchor="end" fill="#1a1a1a" textLength="33.7" lengthAdjust="spacingAndGlyphs" stroke="#1a1a1a" stroke-width="0.14">Time (min)</text>
<text x="74.6" y="557.4" font-size="7" text-anchor="middle" fill="#222" stroke="#222" stroke-width="0.14">0</text>
<text x="89.05" y="557.4" font-size="7" text-anchor="middle" fill="#222" stroke="#222" stroke-width="0.14">1</text>
<text x="103.5" y="557.4" font-size="7" text-anchor="middle" fill="#222" stroke="#222" stroke-width="0.14">3</text>
<text x="117.95" y="557.4" font-size="7" text-anchor="middle" fill="#222" stroke="#222" stroke-width="0.14">6</text>
<text x="132.4" y="557.4" font-size="7" text-anchor="middle" fill="#222" stroke="#222" stroke-width="0.14">0</text>
<text x="146.85" y="557.4" font-size="7" text-anchor="middle" fill="#222" stroke="#222" stroke-width="0.14">1</text>
<text x="161.3" y="557.4" font-size="7" text-anchor="middle" fill="#222" stroke="#222" stroke-width="0.14">3</text>
<text x="175.75" y="557.4" font-size="7" text-anchor="middle" fill="#222" stroke="#222" stroke-width="0.14">6</text>
<text x="8" y="18.6" font-size="13.4" text-anchor="start" font-weight="bold" fill="#000" stroke="#000" stroke-width="0.35" textLength="9.6" lengthAdjust="spacingAndGlyphs">A</text>
<text x="8.8" y="405.2" font-size="12.6" text-anchor="start" font-weight="bold" fill="#000" stroke="#000" stroke-width="0.35" textLength="7.5" lengthAdjust="spacingAndGlyphs">B</text>
<text x="180" y="405.6" font-size="12.6" text-anchor="start" font-weight="bold" fill="#000" stroke="#000" stroke-width="0.35" textLength="8.4" lengthAdjust="spacingAndGlyphs">C</text>
<text x="359.9" y="405.1" font-size="12.6" text-anchor="start" font-weight="bold" fill="#000" stroke="#000" stroke-width="0.35" textLength="8.4" lengthAdjust="spacingAndGlyphs">D</text>
<text x="8.9" y="528.2" font-size="12.6" text-anchor="start" font-weight="bold" fill="#000" stroke="#000" stroke-width="0.35" textLength="6.8" lengthAdjust="spacingAndGlyphs">E</text>
<rect x="0" y="0" width="520" height="1.3" fill="#000"/>
<rect x="0" y="0" width="1.3" height="721" fill="#000"/>
<rect x="518.6" y="0" width="1.4" height="721" fill="#000"/>
<rect x="0" y="719.3" width="520" height="1.7" fill="#000"/>
</svg>
</body></html>
